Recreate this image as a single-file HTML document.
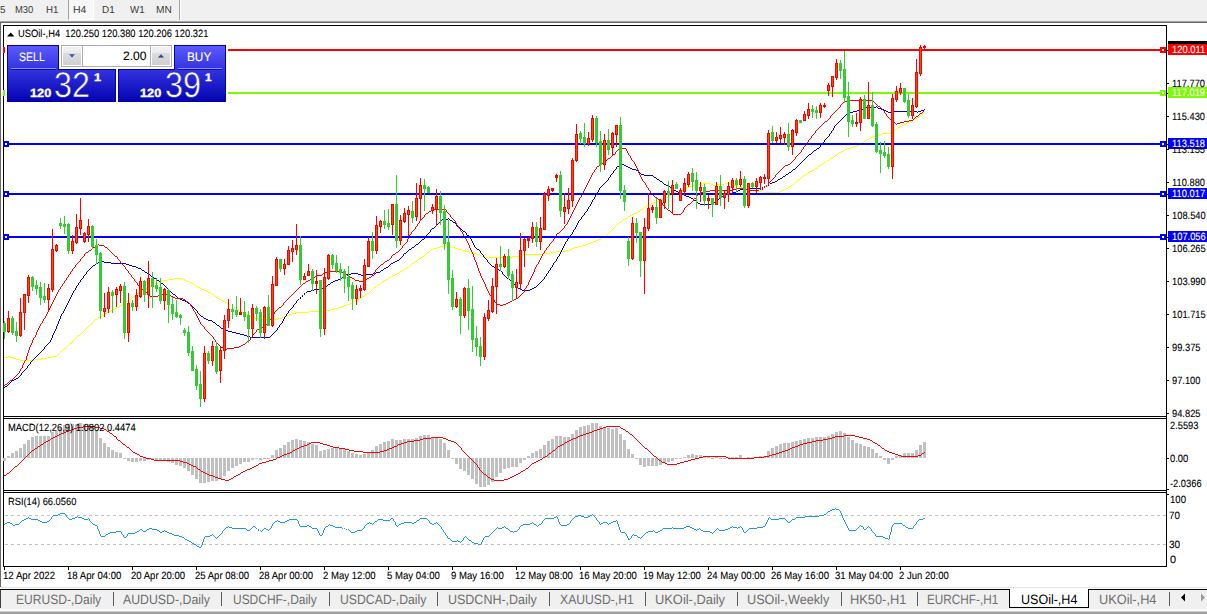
<!DOCTYPE html>
<html><head><meta charset="utf-8"><title>USOil-,H4</title>
<style>
html,body{margin:0;padding:0}
body{width:1207px;height:614px;overflow:hidden;background:#f0f0f0;position:relative;font-family:"Liberation Sans",sans-serif}
div{position:absolute;box-sizing:border-box}
.t{position:absolute;white-space:pre;line-height:0;transform-origin:0 0;display:block;text-rendering:geometricPrecision}
svg{position:absolute;left:0;top:0}
</style></head><body>
<!-- toolbar -->
<div style="left:0;top:0;width:1207px;height:21px;background:#f0f0f0"></div>
<div style="left:68px;top:0;width:26px;height:20px;background:#f7f7f7;border-left:1px solid #a0a0a0;border-right:1px solid #fff;border-bottom:1px solid #fff"></div>
<div style="left:179px;top:0;width:1px;height:20px;background:#a6a6a6"></div>
<div style="left:180px;top:0;width:1px;height:20px;background:#fbfbfb"></div>
<div style="left:0;top:21px;width:1207px;height:1px;background:#a0a0a0"></div>
<div style="left:0;top:22px;width:1207px;height:1px;background:#696969"></div>
<!-- chart window -->
<div style="left:0;top:23px;width:1207px;height:564px;background:#fff;border-left:1px solid #696969"></div>
<div style="left:0;top:587px;width:1207px;height:1px;background:#e3e3e3"></div>
<div style="left:0;top:588px;width:1207px;height:1px;background:#fff"></div>
<div style="left:0;top:589px;width:1207px;height:1px;background:#000"></div>
<!-- tab bar -->
<div style="left:0;top:590px;width:1207px;height:19px;background:#f0f0f0;border-left:1px solid #404040"></div>
<div style="left:0;top:608px;width:1207px;height:1px;background:#f0f0f0"></div>
<div style="left:0;top:609px;width:1207px;height:2px;background:#fcfcfc"></div>
<div style="left:0;top:611px;width:1207px;height:1px;background:#d0d0d0"></div>
<div style="left:0;top:612px;width:1207px;height:2px;background:#a0a0a0"></div>
<div style="left:113px;top:592px;width:1px;height:14px;background:#5a5a5a"></div>
<div style="left:221px;top:592px;width:1px;height:14px;background:#5a5a5a"></div>
<div style="left:329px;top:592px;width:1px;height:14px;background:#5a5a5a"></div>
<div style="left:437px;top:592px;width:1px;height:14px;background:#5a5a5a"></div>
<div style="left:549px;top:592px;width:1px;height:14px;background:#5a5a5a"></div>
<div style="left:645px;top:592px;width:1px;height:14px;background:#5a5a5a"></div>
<div style="left:737px;top:592px;width:1px;height:14px;background:#5a5a5a"></div>
<div style="left:841px;top:592px;width:1px;height:14px;background:#5a5a5a"></div>
<div style="left:917px;top:592px;width:1px;height:14px;background:#5a5a5a"></div>
<div style="left:1169px;top:592px;width:1px;height:14px;background:#5a5a5a"></div>
<div style="left:1009px;top:589px;width:80px;height:19px;background:#fff;border:1px solid #000;border-top:none"></div>
<svg width="1207" height="614" viewBox="0 0 1207 614" shape-rendering="crispEdges">
<defs>
<clipPath id="cm"><rect x="3" y="26" width="1163" height="390"/></clipPath>
<clipPath id="c2"><rect x="4" y="419" width="1162" height="71"/></clipPath>
<linearGradient id="pg" x1="0" y1="45" x2="0" y2="102" gradientUnits="userSpaceOnUse">
<stop offset="0" stop-color="#5c5cff"/><stop offset="0.42" stop-color="#3434e0"/><stop offset="1" stop-color="#0202b0"/></linearGradient>
<linearGradient id="bg1" x1="0" y1="0" x2="0" y2="1"><stop offset="0" stop-color="#f2f2f2"/><stop offset="0.33" stop-color="#ebebeb"/><stop offset="0.34" stop-color="#dcdcdc"/><stop offset="1" stop-color="#d0d0d0"/></linearGradient>
<linearGradient id="ar" x1="0" y1="0" x2="0" y2="1"><stop offset="0" stop-color="#5878d8"/><stop offset="1" stop-color="#1c2c6c"/></linearGradient>
</defs>
<rect x="3" y="25" width="1164" height="1" fill="#000"/>
<rect x="3" y="25" width="1" height="542" fill="#000"/>
<rect x="1166" y="25" width="1" height="542" fill="#000"/>
<rect x="3" y="416" width="1164" height="1" fill="#000"/>
<rect x="3" y="418" width="1164" height="1" fill="#000"/>
<rect x="3" y="490" width="1164" height="1" fill="#000"/>
<rect x="3" y="492" width="1164" height="1" fill="#000"/>
<rect x="3" y="566" width="1164" height="1" fill="#000"/>
<rect x="4" y="417" width="1162" height="1" fill="#fff"/>
<rect x="4" y="491" width="1162" height="1" fill="#fff"/>
<rect x="1167" y="83" width="2" height="1" fill="#000"/>
<rect x="1167" y="116" width="2" height="1" fill="#000"/>
<rect x="1167" y="149" width="2" height="1" fill="#000"/>
<rect x="1167" y="182" width="2" height="1" fill="#000"/>
<rect x="1167" y="215" width="2" height="1" fill="#000"/>
<rect x="1167" y="248" width="2" height="1" fill="#000"/>
<rect x="1167" y="281" width="2" height="1" fill="#000"/>
<rect x="1167" y="314" width="2" height="1" fill="#000"/>
<rect x="1167" y="347" width="2" height="1" fill="#000"/>
<rect x="1167" y="380" width="2" height="1" fill="#000"/>
<rect x="1167" y="413" width="2" height="1" fill="#000"/>
<rect x="1167" y="458" width="2" height="1" fill="#000"/>
<rect x="1167" y="489" width="2" height="1" fill="#000"/>
<rect x="1167" y="494" width="2" height="1" fill="#000"/>
<rect x="4" y="567" width="1" height="3" fill="#000"/>
<rect x="68" y="567" width="1" height="3" fill="#000"/>
<rect x="132" y="567" width="1" height="3" fill="#000"/>
<rect x="196" y="567" width="1" height="3" fill="#000"/>
<rect x="260" y="567" width="1" height="3" fill="#000"/>
<rect x="324" y="567" width="1" height="3" fill="#000"/>
<rect x="388" y="567" width="1" height="3" fill="#000"/>
<rect x="452" y="567" width="1" height="3" fill="#000"/>
<rect x="516" y="567" width="1" height="3" fill="#000"/>
<rect x="580" y="567" width="1" height="3" fill="#000"/>
<rect x="644" y="567" width="1" height="3" fill="#000"/>
<rect x="708" y="567" width="1" height="3" fill="#000"/>
<rect x="772" y="567" width="1" height="3" fill="#000"/>
<rect x="836" y="567" width="1" height="3" fill="#000"/>
<rect x="900" y="567" width="1" height="3" fill="#000"/>
<g clip-path="url(#cm)">
<path d="M924 112.5h1M923 113.5h1M921 114.5h2M920 115.5h1M919 116.5h1M917 117.5h2M915 118.5h2M913 119.5h2M911 120.5h2M909 121.5h2M907 122.5h2M906 123.5h1M904 124.5h2M902 125.5h2M900 126.5h2M898 127.5h2M897 128.5h1M895 129.5h2M893 130.5h2M892 131.5h1M891 132.5h1M882 133.5h9M879 134.5h3M878 135.5h1M872 136.5h6M870 137.5h2M869 138.5h1M867 139.5h2M865 140.5h2M864 141.5h1M862 142.5h2M861 143.5h1M859 144.5h2M857 145.5h2M854 146.5h3M851 147.5h3M847 148.5h4M845 149.5h2M843 150.5h2M841 151.5h2M839 152.5h2M838 153.5h1M837 154.5h1M835 155.5h2M834 156.5h1M832 157.5h2M830 158.5h2M829 159.5h1M827 160.5h2M826 161.5h1M824 162.5h2M822 163.5h2M821 164.5h1M819 165.5h2M818 166.5h1M817 167.5h1M815 168.5h2M814 169.5h1M812 170.5h2M810 171.5h2M808 172.5h2M807 173.5h1M805 174.5h2M803 175.5h2M802 176.5h1M801 177.5h1M800 178.5h1M798 179.5h2M797 180.5h1M796 181.5h1M795 182.5h1M700 183.5h11M725 183.5h8M794 183.5h1M695 184.5h5M711 184.5h2M716 184.5h9M733 184.5h1M793 184.5h1M692 185.5h3M713 185.5h3M734 185.5h2M791 185.5h2M689 186.5h3M736 186.5h3M789 186.5h2M687 187.5h2M739 187.5h3M788 187.5h1M685 188.5h2M742 188.5h3M786 188.5h2M683 189.5h2M745 189.5h5M784 189.5h2M679 190.5h4M750 190.5h5M782 190.5h2M676 191.5h3M755 191.5h7M780 191.5h2M674 192.5h2M762 192.5h1M764 192.5h16M673 193.5h1M671 194.5h2M669 195.5h2M668 196.5h1M665 197.5h3M663 198.5h2M661 199.5h2M659 200.5h2M656 201.5h3M653 202.5h3M651 203.5h2M649 204.5h2M647 205.5h2M646 206.5h1M644 207.5h2M643 208.5h1M641 209.5h2M640 210.5h1M638 211.5h2M636 212.5h2M634 213.5h2M632 214.5h2M630 215.5h2M628 216.5h2M627 217.5h1M625 218.5h2M623 219.5h2M622 220.5h1M621 221.5h1M619 222.5h2M618 223.5h1M617 224.5h1M616 225.5h1M615 226.5h1M614 227.5h1M613 228.5h1M612 229.5h1M611 230.5h1M610 231.5h1M609 232.5h1M608 233.5h1M607 234.5h1M606 235.5h1M604 236.5h2M602 237.5h2M601 238.5h1M598 239.5h3M596 240.5h2M593 241.5h3M591 242.5h2M588 243.5h3M586 244.5h2M444 245.5h4M582 245.5h4M440 246.5h4M448 246.5h3M578 246.5h4M437 247.5h3M451 247.5h4M574 247.5h4M433 248.5h4M455 248.5h3M572 248.5h2M431 249.5h2M458 249.5h4M570 249.5h2M430 250.5h1M462 250.5h3M566 250.5h4M429 251.5h1M465 251.5h4M556 251.5h10M427 252.5h2M469 252.5h3M549 252.5h7M426 253.5h1M472 253.5h4M543 253.5h6M425 254.5h1M476 254.5h4M523 254.5h20M424 255.5h1M480 255.5h2M519 255.5h4M422 256.5h2M482 256.5h4M512 256.5h7M421 257.5h1M486 257.5h26M419 258.5h2M418 259.5h1M417 260.5h1M415 261.5h2M414 262.5h1M412 263.5h2M411 264.5h1M410 265.5h1M409 266.5h1M407 267.5h2M405 268.5h2M404 269.5h1M402 270.5h2M400 271.5h2M399 272.5h1M397 273.5h2M395 274.5h2M393 275.5h2M391 276.5h2M389 277.5h2M174 278.5h9M388 278.5h1M168 279.5h6M183 279.5h2M386 279.5h2M163 280.5h5M185 280.5h2M384 280.5h2M160 281.5h3M187 281.5h2M382 281.5h2M158 282.5h2M189 282.5h3M381 282.5h1M155 283.5h3M192 283.5h1M380 283.5h1M152 284.5h3M193 284.5h2M378 284.5h2M150 285.5h2M195 285.5h1M377 285.5h1M148 286.5h2M196 286.5h2M376 286.5h1M147 287.5h1M198 287.5h2M374 287.5h2M146 288.5h1M200 288.5h1M373 288.5h1M144 289.5h2M201 289.5h3M372 289.5h1M142 290.5h2M204 290.5h2M371 290.5h1M140 291.5h2M206 291.5h2M370 291.5h1M139 292.5h1M208 292.5h3M369 292.5h1M137 293.5h2M211 293.5h1M367 293.5h2M136 294.5h1M212 294.5h2M365 294.5h2M135 295.5h1M214 295.5h1M364 295.5h1M133 296.5h2M215 296.5h1M362 296.5h2M132 297.5h1M216 297.5h2M361 297.5h1M131 298.5h1M218 298.5h1M359 298.5h2M129 299.5h2M219 299.5h2M357 299.5h2M128 300.5h1M221 300.5h2M355 300.5h2M126 301.5h2M223 301.5h2M354 301.5h1M125 302.5h1M225 302.5h2M352 302.5h2M124 303.5h1M227 303.5h2M350 303.5h2M122 304.5h2M229 304.5h1M347 304.5h3M120 305.5h2M230 305.5h1M344 305.5h3M119 306.5h1M232 306.5h1M341 306.5h3M117 307.5h2M234 307.5h1M338 307.5h3M115 308.5h2M236.5 308v2M335 308.5h3M113 309.5h2M238.5 309v2M331 309.5h4M111 310.5h2M240 310.5h1M326 310.5h5M109 311.5h2M241 311.5h1M309 311.5h17M107 312.5h2M242 312.5h2M296 312.5h13M105 313.5h2M244 313.5h2M292 313.5h4M104 314.5h1M246 314.5h2M289 314.5h3M102 315.5h2M248 315.5h2M287 315.5h2M100 316.5h2M250 316.5h2M284 316.5h3M98 317.5h2M252 317.5h3M282 317.5h2M97 318.5h1M255 318.5h3M278 318.5h4M95 319.5h2M258 319.5h20M94 320.5h1M93 321.5h1M92.5 322v2M90 324.5h2M89 325.5h1M88 326.5h1M87 327.5h1M86 328.5h1M85 329.5h1M84 330.5h1M83 331.5h1M82 332.5h1M81 333.5h1M80 334.5h1M78 335.5h2M77 336.5h1M76 337.5h1M75 338.5h1M74 339.5h1M73 340.5h1M72.5 341v2M70 343.5h2M69 344.5h1M68 345.5h1M67 346.5h1M66 347.5h1M64 348.5h2M63 349.5h1M62 350.5h1M61 351.5h1M60 352.5h1M59 353.5h1M58 354.5h1M57 355.5h1M8 356.5h2M52 356.5h5M4 357.5h4M10 357.5h3M47 357.5h5M13 358.5h3M41 358.5h6M16 359.5h4M35 359.5h6M20 360.5h15" fill="none" stroke="#ffff00" stroke-width="1"/>
<path d="M876 106.5h1M866 107.5h10M877 107.5h1M863 108.5h3M878 108.5h3M861 109.5h2M881 109.5h3M924 109.5h1M857 110.5h4M884 110.5h2M921 110.5h3M853 111.5h4M886 111.5h2M893 111.5h24M918 111.5h3M849 112.5h4M888 112.5h5M917 112.5h1M847 113.5h2M846 114.5h1M845 115.5h1M844 116.5h1M843 117.5h1M842 118.5h1M841 119.5h1M840 120.5h1M839 121.5h1M838 122.5h1M837 123.5h1M836 124.5h1M835 125.5h1M834.5 126v2M833.5 128v2M832 130.5h1M831.5 131v2M830 133.5h1M829.5 134v2M828 136.5h1M827 137.5h1M826 138.5h1M825 139.5h1M824.5 140v2M823 142.5h1M822 143.5h1M821 144.5h1M820.5 145v2M819 147.5h1M817 148.5h2M816 149.5h1M814 150.5h2M813 151.5h1M812 152.5h1M811 153.5h1M809 154.5h2M808 155.5h1M807 156.5h1M806 157.5h1M805 158.5h1M804 159.5h1M803 160.5h1M802 161.5h1M801 162.5h1M800 163.5h1M622 164.5h2M799 164.5h1M620 165.5h2M624 165.5h2M798 165.5h1M617 166.5h3M626 166.5h2M797 166.5h1M616.5 167v2M628 167.5h2M796 167.5h1M630 168.5h2M795 168.5h1M615 169.5h1M632 169.5h4M793 169.5h2M614 170.5h1M636 170.5h2M792 170.5h1M613.5 171v2M638 171.5h1M791 171.5h1M639 172.5h1M789 172.5h2M612 173.5h1M640 173.5h1M788 173.5h1M611 174.5h1M641 174.5h3M786 174.5h2M610.5 175v2M644 175.5h9M785 175.5h1M653 176.5h1M783 176.5h2M609 177.5h1M654 177.5h2M782 177.5h1M608.5 178v2M656 178.5h1M780 178.5h2M657 179.5h2M778 179.5h2M607 180.5h1M659 180.5h1M777 180.5h1M606 181.5h1M660 181.5h2M775 181.5h2M605 182.5h1M662 182.5h1M772 182.5h3M604 183.5h1M663 183.5h1M770 183.5h2M603 184.5h1M664 184.5h2M768.5 184v2M602 185.5h1M666 185.5h2M766.5 185v2M601 186.5h1M668 186.5h2M600 187.5h1M670 187.5h1M762.5 187v2M764 187.5h1M599.5 188v2M671 188.5h2M748 188.5h13M673 189.5h1M740 189.5h8M598.5 190v2M674 190.5h2M738 190.5h2M676 191.5h2M736 191.5h2M597 192.5h1M678 192.5h2M733 192.5h3M596.5 193v2M680 193.5h2M729 193.5h4M682 194.5h2M725 194.5h4M595.5 195v2M684 195.5h2M724 195.5h1M686 196.5h3M722 196.5h2M594.5 197v2M689 197.5h2M721 197.5h1M691 198.5h2M719 198.5h2M593 199.5h1M693 199.5h1M718 199.5h1M592.5 200v2M694 200.5h2M717 200.5h1M696 201.5h1M716 201.5h1M591.5 202v2M697 202.5h1M714 202.5h2M698 203.5h2M711 203.5h3M590.5 204v2M700 204.5h11M589 206.5h1M588.5 207v2M587.5 209v2M586 211.5h1M585 212.5h1M584.5 213v2M583 215.5h1M582 216.5h1M581.5 217v2M448 218.5h1M442 219.5h6M449 219.5h1M580 219.5h1M441 220.5h1M450 220.5h2M579 220.5h1M440 221.5h1M452 221.5h1M578.5 221v2M439 222.5h1M453 222.5h2M438 223.5h1M455 223.5h1M577.5 223v2M437 224.5h1M456.5 224v2M436 225.5h1M576.5 225v2M435 226.5h1M457 226.5h2M434 227.5h1M459 227.5h1M575.5 227v2M432 228.5h2M460 228.5h1M431 229.5h1M461 229.5h1M574 229.5h1M430.5 230v2M462 230.5h1M573.5 230v2M463 231.5h2M429 232.5h1M465 232.5h1M572.5 232v2M428 233.5h1M466.5 233v2M427 234.5h1M571 234.5h1M426 235.5h1M467 235.5h2M570 235.5h1M425 236.5h1M469.5 236v2M569.5 236v2M424.5 237v2M470 238.5h1M568 238.5h1M422 239.5h2M471.5 239v2M567.5 239v2M421 240.5h1M420 241.5h1M472.5 241v2M566 241.5h1M419 242.5h1M565.5 242v2M418 243.5h1M473.5 243v2M416 244.5h2M564.5 244v2M415 245.5h1M474.5 245v2M414 246.5h1M563.5 246v2M412 247.5h2M475 247.5h1M411 248.5h1M476 248.5h1M562.5 248v2M409 249.5h2M477 249.5h2M408 250.5h1M479 250.5h1M561.5 250v2M407 251.5h1M480.5 251v2M406 252.5h1M560.5 252v2M404 253.5h2M481 253.5h1M403.5 254v2M482 254.5h1M559.5 254v2M483.5 255v2M402 256.5h1M558 256.5h1M401 257.5h1M484 257.5h1M557.5 257v2M400 258.5h1M485 258.5h1M399 259.5h1M486 259.5h1M556.5 259v2M397 260.5h2M487.5 260v2M101 261.5h3M395 261.5h2M555 261.5h1M98 262.5h3M104 262.5h7M393 262.5h2M488 262.5h1M554 262.5h1M96 263.5h2M111 263.5h15M391 263.5h2M489 263.5h1M553.5 263v2M95 264.5h1M126 264.5h3M390 264.5h1M490 264.5h1M93 265.5h2M129 265.5h3M389 265.5h1M491 265.5h1M552.5 265v2M92 266.5h1M132 266.5h4M388 266.5h1M492 266.5h2M91 267.5h1M136 267.5h2M386 267.5h2M494 267.5h2M551 267.5h1M90 268.5h1M138 268.5h3M384 268.5h2M496 268.5h1M550.5 268v2M89 269.5h1M141 269.5h1M383 269.5h1M497 269.5h2M88 270.5h1M142 270.5h2M381 270.5h2M499 270.5h2M549 270.5h1M87 271.5h1M144 271.5h1M380 271.5h1M501 271.5h1M548.5 271v2M86.5 272v2M145 272.5h2M376 272.5h4M502.5 272v2M147 273.5h1M351 273.5h7M373 273.5h3M547 273.5h1M85 274.5h1M148 274.5h2M346 274.5h5M358 274.5h3M363 274.5h10M503 274.5h1M546.5 274v2M84 275.5h1M150 275.5h1M344 275.5h2M361 275.5h2M504 275.5h1M83.5 276v2M151 276.5h2M343 276.5h1M505 276.5h1M545 276.5h1M153 277.5h1M342 277.5h1M506 277.5h1M544.5 277v2M82 278.5h1M154 278.5h2M340 278.5h2M507 278.5h2M81 279.5h1M156 279.5h1M338 279.5h2M509 279.5h1M543 279.5h1M80.5 280v2M157 280.5h2M335 280.5h3M510 280.5h1M542 280.5h1M159 281.5h1M333 281.5h2M511 281.5h1M541 281.5h1M79 282.5h1M160 282.5h1M331 282.5h2M512 282.5h1M540 282.5h1M78.5 283v2M161 283.5h2M330 283.5h1M513 283.5h1M539 283.5h1M163 284.5h1M328 284.5h2M514 284.5h1M538 284.5h1M77 285.5h1M164 285.5h1M327 285.5h1M515 285.5h1M537 285.5h1M76.5 286v2M165 286.5h1M325 286.5h2M516 286.5h1M536 286.5h1M166 287.5h1M324 287.5h1M517 287.5h1M534 287.5h2M75.5 288v2M167 288.5h1M320 288.5h4M518 288.5h2M532 288.5h2M168 289.5h1M314 289.5h6M520 289.5h2M530 289.5h2M74 290.5h1M169 290.5h1M311 290.5h3M522 290.5h8M73.5 291v2M170 291.5h1M307 291.5h4M171 292.5h1M306 292.5h1M72.5 293v2M172 293.5h1M304.5 293v2M173 294.5h2M71.5 295v2M175 295.5h1M302.5 295v2M176 296.5h1M70.5 297v2M177 297.5h1M300.5 297v2M178 298.5h2M69.5 299v2M180 299.5h2M298 299.5h1M182 300.5h3M297 300.5h1M68.5 301v2M185 301.5h2M296.5 301v2M187 302.5h1M67.5 303v2M188 303.5h2M295 303.5h1M190 304.5h1M294 304.5h1M66.5 305v2M191 305.5h1M293.5 305v2M192 306.5h1M65.5 307v2M193 307.5h1M292 307.5h1M194 308.5h1M291 308.5h1M64.5 309v2M195 309.5h1M290 309.5h1M196 310.5h1M289 310.5h1M63.5 311v2M197.5 311v2M288.5 311v2M62 313.5h1M198 313.5h1M287 313.5h1M61.5 314v2M199 314.5h1M286.5 314v2M200 315.5h1M60.5 316v3M201 316.5h2M285 316.5h1M203 317.5h1M284.5 317v2M204 318.5h2M59.5 319v2M206 319.5h2M283.5 319v2M208 320.5h4M58.5 321v3M212 321.5h1M282.5 321v2M213 322.5h2M215 323.5h1M281 323.5h1M57.5 324v2M216 324.5h1M280 324.5h1M217 325.5h2M279.5 325v2M56.5 326v3M219 326.5h1M220 327.5h1M278 327.5h1M221 328.5h3M277.5 328v2M55.5 329v2M224 329.5h2M226 330.5h2M276 330.5h1M54.5 331v2M228 331.5h4M275 331.5h1M232 332.5h4M274 332.5h1M53.5 333v2M236 333.5h4M273 333.5h1M240 334.5h4M272 334.5h1M52.5 335v3M244 335.5h3M271 335.5h1M247 336.5h3M270 336.5h1M250 337.5h20M51.5 338v2M50.5 340v2M49 342.5h1M48 343.5h1M47 344.5h1M46 345.5h1M45 346.5h1M44.5 347v2M43 349.5h1M42 350.5h1M41 351.5h1M40 352.5h1M39 353.5h1M38 354.5h1M37 355.5h1M36 356.5h1M35 357.5h1M34 358.5h1M33 359.5h1M32 360.5h1M31 361.5h1M30.5 362v2M29 364.5h1M28 365.5h1M27.5 366v2M26 368.5h1M25 369.5h1M24 370.5h1M23 371.5h1M22 372.5h1M21.5 373v2M20 375.5h1M19 376.5h1M18 377.5h1M16 378.5h2M14 379.5h2M12 380.5h2M11 381.5h1M10 382.5h1M9 383.5h1M8 384.5h1M7 385.5h1M5 386.5h2M4 387.5h1" fill="none" stroke="#0000d0" stroke-width="1"/>
<path d="M847 100.5h26M845 101.5h2M873 101.5h1M843 102.5h2M874 102.5h1M842 103.5h1M875 103.5h1M841 104.5h1M876 104.5h1M840.5 105v2M877 105.5h1M878 106.5h2M839 107.5h1M880 107.5h1M838 108.5h1M881 108.5h1M837 109.5h1M882 109.5h1M836 110.5h1M883 110.5h1M835 111.5h1M884.5 111v2M923 111.5h1M834 112.5h1M922 112.5h1M833 113.5h1M885 113.5h1M920 113.5h2M832 114.5h1M886.5 114v2M919 114.5h1M831 115.5h1M918 115.5h1M830.5 116v2M887 116.5h1M916 116.5h2M888 117.5h1M915 117.5h1M829 118.5h1M889 118.5h1M914 118.5h1M828 119.5h1M890 119.5h1M913 119.5h1M827 120.5h1M891 120.5h1M909 120.5h4M825 121.5h2M892 121.5h1M904 121.5h5M824 122.5h1M893 122.5h2M900 122.5h4M823 123.5h1M895 123.5h1M897 123.5h3M822 124.5h1M896 124.5h1M821 125.5h1M820 126.5h1M819 127.5h1M818 128.5h1M817 129.5h1M816 130.5h1M815.5 131v2M814 133.5h1M813 134.5h1M812 135.5h1M811.5 136v2M810 138.5h1M809 139.5h1M808.5 140v2M807 142.5h1M806 143.5h1M805.5 144v2M804 146.5h1M803.5 147v2M621 148.5h5M618 149.5h3M626.5 149v2M802 149.5h1M617 150.5h1M801.5 150v2M616 151.5h1M627.5 151v2M615.5 152v2M800 152.5h1M628.5 153v2M799 153.5h1M613 154.5h2M798 154.5h1M612 155.5h1M629 155.5h1M797 155.5h1M611 156.5h1M630.5 156v2M796 156.5h1M610 157.5h1M795.5 157v2M608 158.5h2M631.5 158v2M607 159.5h1M794 159.5h1M606 160.5h1M632 160.5h1M793 160.5h1M605 161.5h1M633 161.5h1M792 161.5h1M604 162.5h1M634.5 162v2M791 162.5h1M602 163.5h2M790 163.5h1M601 164.5h1M635.5 164v2M788 164.5h2M599 165.5h2M785 165.5h3M597 166.5h2M636.5 166v2M784 166.5h1M596.5 167v2M783 167.5h1M637.5 168v2M782 168.5h1M595 169.5h1M781 169.5h1M594.5 170v2M638.5 170v3M780 170.5h1M779 171.5h1M593 172.5h1M778 172.5h1M592.5 173v2M639.5 173v2M777 173.5h1M776 174.5h1M591.5 175v2M640.5 175v2M775.5 175v2M590.5 177v2M641.5 177v2M774 177.5h1M773 178.5h1M589.5 179v2M642.5 179v2M772 179.5h1M771 180.5h1M588.5 181v2M643 181.5h1M770 181.5h1M644 182.5h1M769 182.5h1M587.5 183v2M645.5 183v2M768.5 183v2M586.5 185v2M646.5 185v2M766.5 185v2M764.5 186v2M585.5 187v2M647 187.5h1M648.5 188v2M736 188.5h8M762.5 188v2M584.5 189v2M732 189.5h4M744 189.5h5M760 189.5h1M649 190.5h1M710 190.5h22M749 190.5h10M583.5 191v2M650.5 191v2M705 191.5h5M700 192.5h5M582.5 193v2M651 193.5h1M699 193.5h1M652 194.5h1M698 194.5h1M581.5 195v2M653 195.5h1M697 195.5h1M654 196.5h1M696.5 196v2M580 197.5h1M655 197.5h2M579.5 198v2M657 198.5h1M694 198.5h2M658 199.5h2M693.5 199v2M578.5 200v2M660.5 200v2M692 201.5h1M577.5 202v2M661 202.5h1M691 202.5h1M662.5 203v2M690 203.5h1M576.5 204v2M688 204.5h2M663 205.5h1M687 205.5h1M575.5 206v2M664 206.5h1M686 206.5h1M665 207.5h1M685 207.5h1M440 208.5h2M574.5 208v2M666 208.5h1M684.5 208v2M434 209.5h6M442 209.5h4M667 209.5h1M431 210.5h3M446.5 210v2M573.5 210v2M668 210.5h2M683.5 210v2M429 211.5h2M670 211.5h1M428 212.5h1M447 212.5h1M572.5 212v2M671 212.5h1M682 212.5h1M426 213.5h2M448 213.5h1M672 213.5h1M681 213.5h1M425 214.5h1M449 214.5h1M571.5 214v2M673 214.5h8M424.5 215v2M450.5 215v2M570.5 216v2M423 217.5h1M451 217.5h1M422 218.5h1M452 218.5h1M569.5 218v2M421 219.5h1M453 219.5h1M420 220.5h1M454 220.5h1M568.5 220v2M419.5 221v2M455.5 221v2M567.5 222v2M418 223.5h1M456.5 223v2M417.5 224v2M566 224.5h1M457 225.5h1M565 225.5h1M416 226.5h1M458.5 226v2M564.5 226v2M415.5 227v2M459 228.5h1M563 228.5h1M414 229.5h1M460.5 229v2M562 229.5h1M413 230.5h1M561 230.5h1M412 231.5h1M461 231.5h1M560 231.5h1M411.5 232v2M462.5 232v2M559 232.5h1M557 233.5h2M410 234.5h1M463.5 234v2M556.5 234v2M409.5 235v2M464 236.5h1M555.5 236v2M408.5 237v2M465.5 237v2M554 238.5h1M407.5 239v3M466.5 239v2M553.5 239v2M467.5 241v2M552 241.5h1M406 242.5h1M551 242.5h1M405 243.5h1M468.5 243v2M550 243.5h1M98 244.5h1M404 244.5h1M549.5 244v2M97 245.5h1M99 245.5h5M403 245.5h1M469.5 245v3M95 246.5h2M104 246.5h1M402.5 246v2M548 246.5h1M93 247.5h2M105 247.5h2M547 247.5h1M92 248.5h1M107 248.5h1M401 248.5h1M470.5 248v2M546.5 248v2M91 249.5h1M108 249.5h1M400 249.5h1M89 250.5h2M109 250.5h1M399 250.5h1M471.5 250v2M545 250.5h1M88 251.5h1M110 251.5h1M398 251.5h1M544.5 251v2M86 252.5h2M111 252.5h1M396 252.5h2M472.5 252v2M85 253.5h1M112 253.5h1M395 253.5h1M543 253.5h1M84.5 254v2M113 254.5h1M393 254.5h2M473.5 254v3M542.5 254v2M114 255.5h1M392 255.5h1M83 256.5h1M115 256.5h2M391.5 256v2M541.5 256v2M82 257.5h1M117.5 257v2M474.5 257v3M81 258.5h1M390 258.5h1M540.5 258v2M80.5 259v2M118 259.5h1M389 259.5h1M119 260.5h1M387 260.5h2M475.5 260v2M539.5 260v2M79 261.5h1M120.5 261v2M385 261.5h2M78 262.5h1M384 262.5h1M476.5 262v3M538.5 262v2M77 263.5h1M121 263.5h1M383 263.5h1M76 264.5h1M122 264.5h1M381 264.5h2M537 264.5h1M75.5 265v2M123 265.5h1M380 265.5h1M477.5 265v3M536.5 265v2M124 266.5h1M379 266.5h1M74 267.5h1M125.5 267v2M378 267.5h1M535.5 267v2M73 268.5h1M377 268.5h1M478.5 268v3M72.5 269v2M126 269.5h1M376 269.5h1M534.5 269v3M127 270.5h1M375.5 270v2M71 271.5h1M128.5 271v2M328 271.5h14M479.5 271v2M70.5 272v2M325 272.5h3M342 272.5h2M374.5 272v3M533.5 272v2M129 273.5h1M323 273.5h2M344 273.5h2M480.5 273v3M69 274.5h1M130 274.5h1M322 274.5h1M346 274.5h1M532.5 274v2M68.5 275v2M131.5 275v2M316 275.5h6M347 275.5h2M372 275.5h2M315 276.5h1M349 276.5h1M371 276.5h1M481.5 276v2M531.5 276v2M67 277.5h1M132 277.5h1M314 277.5h1M350 277.5h2M369 277.5h2M66.5 278v2M133 278.5h1M312 278.5h2M352 278.5h2M367 278.5h2M482.5 278v2M530.5 278v2M134.5 279v2M310 279.5h2M354 279.5h1M365 279.5h2M65 280.5h1M308 280.5h2M355 280.5h4M363 280.5h2M483.5 280v2M529.5 280v2M64.5 281v2M135 281.5h1M306 281.5h2M359 281.5h4M136 282.5h1M305 282.5h1M484.5 282v2M528.5 282v3M63 283.5h1M137.5 283v2M303 283.5h2M62.5 284v2M302 284.5h1M485.5 284v3M138 285.5h1M301 285.5h1M527 285.5h1M61 286.5h1M139 286.5h1M300 286.5h1M526.5 286v2M60.5 287v2M140 287.5h1M299 287.5h1M486.5 287v2M141 288.5h1M298 288.5h1M525 288.5h1M59 289.5h1M142 289.5h2M297 289.5h1M487.5 289v2M524.5 289v3M58.5 290v2M144 290.5h1M296 290.5h1M145 291.5h1M295 291.5h1M488.5 291v2M57.5 292v2M146 292.5h1M294 292.5h1M523 292.5h1M147 293.5h1M293 293.5h1M489.5 293v2M522 293.5h1M56.5 294v2M148 294.5h1M160 294.5h9M292 294.5h1M521 294.5h1M149 295.5h1M158 295.5h2M169 295.5h2M291 295.5h1M490 295.5h1M520 295.5h1M55.5 296v2M150 296.5h8M171 296.5h2M290 296.5h1M491.5 296v2M519 296.5h1M173 297.5h2M289 297.5h1M518 297.5h1M54.5 298v2M175 298.5h8M288 298.5h1M492 298.5h1M516 298.5h2M183 299.5h2M287 299.5h1M493 299.5h1M514 299.5h2M53.5 300v2M185 300.5h1M286 300.5h1M494.5 300v2M512 300.5h2M186 301.5h2M285 301.5h1M510 301.5h2M52.5 302v2M188 302.5h1M284 302.5h1M495 302.5h1M508 302.5h2M189 303.5h1M283.5 303v2M496 303.5h1M506 303.5h2M51.5 304v2M190.5 304v2M497 304.5h3M503 304.5h3M282 305.5h1M500 305.5h3M50.5 306v2M191 306.5h1M281 306.5h1M192.5 307v2M279 307.5h2M49.5 308v2M278 308.5h1M193.5 309v2M277 309.5h1M48.5 310v2M276 310.5h1M194 311.5h1M275 311.5h1M47.5 312v2M195.5 312v2M274.5 312v2M46.5 314v2M196.5 314v2M273 314.5h1M272.5 315v2M45.5 316v2M197.5 316v2M271.5 317v2M44 318.5h1M198.5 318v2M43.5 319v2M270 319.5h1M199.5 320v2M269.5 320v2M42.5 321v2M200.5 322v2M268 322.5h1M41 323.5h1M267 323.5h1M40.5 324v2M201 324.5h1M266 324.5h1M202 325.5h1M264 325.5h2M39.5 326v2M203 326.5h1M263 326.5h1M204.5 327v2M261 327.5h2M38.5 328v2M259 328.5h2M205 329.5h1M257 329.5h2M37.5 330v2M206 330.5h1M256.5 330v2M207 331.5h1M36.5 332v3M208 332.5h1M255 332.5h1M209 333.5h1M254 333.5h1M210 334.5h1M253 334.5h1M35.5 335v2M211 335.5h1M252.5 335v2M212 336.5h1M34 337.5h1M213.5 337v2M251 337.5h1M33.5 338v2M250.5 338v2M214 339.5h1M32.5 340v3M215.5 340v2M249 340.5h1M247 341.5h2M216 342.5h1M246 342.5h1M31.5 343v2M217 343.5h1M245 343.5h1M218 344.5h1M243 344.5h2M30.5 345v2M219 345.5h1M241 345.5h2M220 346.5h1M239 346.5h2M29.5 347v3M221 347.5h2M234 347.5h5M223 348.5h3M227 348.5h7M226 349.5h1M28.5 350v3M27.5 353v3M26.5 356v4M25 360.5h1M24.5 361v2M23.5 363v2M22.5 365v3M21 368.5h1M20.5 369v2M19.5 371v2M18 373.5h1M17 374.5h1M16 375.5h1M15 376.5h1M14 377.5h1M13 378.5h1M12 379.5h1M10 380.5h2M9 381.5h1M8 382.5h1M7 383.5h1M5 384.5h2M4 385.5h1" fill="none" stroke="#ff0000" stroke-width="1"/>
</g>
<rect x="228" y="49" width="938" height="2" fill="#ff0000"/>
<rect x="1160" y="47" width="6" height="6" fill="#ff0000"/>
<rect x="1162" y="49" width="2" height="2" fill="#fff"/>
<rect x="1167" y="50" width="1" height="1" fill="#000"/>
<rect x="3" y="47" width="2" height="6" fill="#ff0000"/>
<rect x="228" y="92" width="938" height="2" fill="#7cfc00"/>
<rect x="1160" y="90" width="6" height="6" fill="#7cfc00"/>
<rect x="1162" y="92" width="2" height="2" fill="#fff"/>
<rect x="1167" y="93" width="1" height="1" fill="#000"/>
<rect x="3" y="90" width="2" height="6" fill="#7cfc00"/>
<rect x="4" y="143" width="1162" height="2" fill="#0000ff"/>
<rect x="1160" y="141" width="6" height="6" fill="#0000ff"/>
<rect x="1162" y="143" width="2" height="2" fill="#fff"/>
<rect x="1167" y="144" width="1" height="1" fill="#000"/>
<rect x="3" y="141" width="6" height="6" fill="#0000ff"/>
<rect x="5" y="143" width="2" height="2" fill="#fff"/>
<rect x="4" y="193" width="1162" height="2" fill="#0000ff"/>
<rect x="1160" y="191" width="6" height="6" fill="#0000ff"/>
<rect x="1162" y="193" width="2" height="2" fill="#fff"/>
<rect x="1167" y="194" width="1" height="1" fill="#000"/>
<rect x="3" y="191" width="6" height="6" fill="#0000ff"/>
<rect x="5" y="193" width="2" height="2" fill="#fff"/>
<rect x="4" y="236" width="1162" height="2" fill="#0000ff"/>
<rect x="1160" y="234" width="6" height="6" fill="#0000ff"/>
<rect x="1162" y="236" width="2" height="2" fill="#fff"/>
<rect x="1167" y="237" width="1" height="1" fill="#000"/>
<rect x="3" y="234" width="6" height="6" fill="#0000ff"/>
<rect x="5" y="236" width="2" height="2" fill="#fff"/>
<g clip-path="url(#cm)">
<rect x="4" y="321" width="1" height="18" fill="#32cd32"/>
<rect x="3" y="323" width="3" height="9" fill="#32cd32"/>
<rect x="8" y="311" width="1" height="22" fill="#ff0000"/>
<rect x="7" y="318" width="3" height="14" fill="#ff0000"/>
<rect x="8" y="319" width="1" height="12" fill="#ff4a00"/>
<rect x="12" y="316" width="1" height="19" fill="#32cd32"/>
<rect x="11" y="318" width="3" height="15" fill="#32cd32"/>
<rect x="16" y="322" width="1" height="20" fill="#32cd32"/>
<rect x="15" y="331" width="3" height="5" fill="#32cd32"/>
<rect x="20" y="298" width="1" height="39" fill="#ff0000"/>
<rect x="19" y="312" width="3" height="24" fill="#ff0000"/>
<rect x="20" y="313" width="1" height="22" fill="#ff4a00"/>
<rect x="24" y="294" width="1" height="36" fill="#ff0000"/>
<rect x="23" y="294" width="3" height="19" fill="#ff0000"/>
<rect x="24" y="295" width="1" height="17" fill="#ff4a00"/>
<rect x="28" y="275" width="1" height="28" fill="#ff0000"/>
<rect x="27" y="277" width="3" height="19" fill="#ff0000"/>
<rect x="28" y="278" width="1" height="17" fill="#ff4a00"/>
<rect x="32" y="276" width="1" height="15" fill="#32cd32"/>
<rect x="31" y="277" width="3" height="10" fill="#32cd32"/>
<rect x="36" y="280" width="1" height="15" fill="#32cd32"/>
<rect x="35" y="285" width="3" height="4" fill="#32cd32"/>
<rect x="40" y="282" width="1" height="23" fill="#32cd32"/>
<rect x="39" y="287" width="3" height="11" fill="#32cd32"/>
<rect x="44" y="283" width="1" height="20" fill="#32cd32"/>
<rect x="43" y="296" width="3" height="4" fill="#32cd32"/>
<rect x="48" y="284" width="1" height="27" fill="#ff0000"/>
<rect x="47" y="288" width="3" height="12" fill="#ff0000"/>
<rect x="48" y="289" width="1" height="10" fill="#ff4a00"/>
<rect x="52" y="229" width="1" height="63" fill="#ff0000"/>
<rect x="51" y="249" width="3" height="41" fill="#ff0000"/>
<rect x="52" y="250" width="1" height="39" fill="#ff4a00"/>
<rect x="56" y="244" width="1" height="8" fill="#ff0000"/>
<rect x="55" y="245" width="3" height="6" fill="#ff0000"/>
<rect x="56" y="246" width="1" height="4" fill="#ff4a00"/>
<rect x="60" y="218" width="1" height="11" fill="#32cd32"/>
<rect x="59" y="223" width="3" height="3" fill="#32cd32"/>
<rect x="64" y="216" width="1" height="18" fill="#32cd32"/>
<rect x="63" y="224" width="3" height="3" fill="#32cd32"/>
<rect x="68" y="223" width="1" height="31" fill="#32cd32"/>
<rect x="67" y="224" width="3" height="27" fill="#32cd32"/>
<rect x="72" y="235" width="1" height="19" fill="#ff0000"/>
<rect x="71" y="241" width="3" height="10" fill="#ff0000"/>
<rect x="72" y="242" width="1" height="8" fill="#ff4a00"/>
<rect x="76" y="214" width="1" height="30" fill="#ff0000"/>
<rect x="75" y="227" width="3" height="16" fill="#ff0000"/>
<rect x="76" y="228" width="1" height="14" fill="#ff4a00"/>
<rect x="80" y="198" width="1" height="37" fill="#ff0000"/>
<rect x="79" y="220" width="3" height="9" fill="#ff0000"/>
<rect x="80" y="221" width="1" height="7" fill="#ff4a00"/>
<rect x="84" y="232" width="1" height="11" fill="#ff0000"/>
<rect x="83" y="233" width="3" height="9" fill="#ff0000"/>
<rect x="84" y="234" width="1" height="7" fill="#ff4a00"/>
<rect x="88" y="219" width="1" height="23" fill="#ff0000"/>
<rect x="87" y="226" width="3" height="9" fill="#ff0000"/>
<rect x="88" y="227" width="1" height="7" fill="#ff4a00"/>
<rect x="92" y="225" width="1" height="24" fill="#32cd32"/>
<rect x="91" y="226" width="3" height="21" fill="#32cd32"/>
<rect x="96" y="239" width="1" height="25" fill="#32cd32"/>
<rect x="95" y="245" width="3" height="10" fill="#32cd32"/>
<rect x="100" y="252" width="1" height="67" fill="#32cd32"/>
<rect x="99" y="253" width="3" height="58" fill="#32cd32"/>
<rect x="104" y="293" width="1" height="24" fill="#ff0000"/>
<rect x="103" y="308" width="3" height="4" fill="#ff0000"/>
<rect x="104" y="309" width="1" height="2" fill="#ff4a00"/>
<rect x="108" y="287" width="1" height="26" fill="#ff0000"/>
<rect x="107" y="292" width="3" height="17" fill="#ff0000"/>
<rect x="108" y="293" width="1" height="15" fill="#ff4a00"/>
<rect x="112" y="290" width="1" height="23" fill="#32cd32"/>
<rect x="111" y="292" width="3" height="4" fill="#32cd32"/>
<rect x="116" y="287" width="1" height="20" fill="#ff0000"/>
<rect x="115" y="289" width="3" height="6" fill="#ff0000"/>
<rect x="116" y="290" width="1" height="4" fill="#ff4a00"/>
<rect x="120" y="284" width="1" height="19" fill="#ff0000"/>
<rect x="119" y="286" width="3" height="5" fill="#ff0000"/>
<rect x="120" y="287" width="1" height="3" fill="#ff4a00"/>
<rect x="124" y="282" width="1" height="57" fill="#32cd32"/>
<rect x="123" y="286" width="3" height="47" fill="#32cd32"/>
<rect x="128" y="293" width="1" height="49" fill="#ff0000"/>
<rect x="127" y="303" width="3" height="30" fill="#ff0000"/>
<rect x="128" y="304" width="1" height="28" fill="#ff4a00"/>
<rect x="132" y="300" width="1" height="11" fill="#32cd32"/>
<rect x="131" y="303" width="3" height="4" fill="#32cd32"/>
<rect x="136" y="289" width="1" height="22" fill="#ff0000"/>
<rect x="135" y="295" width="3" height="12" fill="#ff0000"/>
<rect x="136" y="296" width="1" height="10" fill="#ff4a00"/>
<rect x="140" y="277" width="1" height="21" fill="#ff0000"/>
<rect x="139" y="281" width="3" height="16" fill="#ff0000"/>
<rect x="140" y="282" width="1" height="14" fill="#ff4a00"/>
<rect x="144" y="280" width="1" height="22" fill="#32cd32"/>
<rect x="143" y="281" width="3" height="14" fill="#32cd32"/>
<rect x="148" y="261" width="1" height="47" fill="#ff0000"/>
<rect x="147" y="278" width="3" height="17" fill="#ff0000"/>
<rect x="148" y="279" width="1" height="15" fill="#ff4a00"/>
<rect x="152" y="272" width="1" height="36" fill="#32cd32"/>
<rect x="151" y="278" width="3" height="9" fill="#32cd32"/>
<rect x="156" y="278" width="1" height="14" fill="#32cd32"/>
<rect x="155" y="285" width="3" height="4" fill="#32cd32"/>
<rect x="160" y="278" width="1" height="26" fill="#32cd32"/>
<rect x="159" y="287" width="3" height="14" fill="#32cd32"/>
<rect x="164" y="288" width="1" height="22" fill="#ff0000"/>
<rect x="163" y="289" width="3" height="12" fill="#ff0000"/>
<rect x="164" y="290" width="1" height="10" fill="#ff4a00"/>
<rect x="168" y="289" width="1" height="34" fill="#32cd32"/>
<rect x="167" y="290" width="3" height="15" fill="#32cd32"/>
<rect x="172" y="297" width="1" height="23" fill="#32cd32"/>
<rect x="171" y="304" width="3" height="10" fill="#32cd32"/>
<rect x="176" y="300" width="1" height="18" fill="#32cd32"/>
<rect x="175" y="312" width="3" height="5" fill="#32cd32"/>
<rect x="180" y="314" width="1" height="11" fill="#32cd32"/>
<rect x="179" y="315" width="3" height="3" fill="#32cd32"/>
<rect x="184" y="328" width="1" height="8" fill="#32cd32"/>
<rect x="183" y="330" width="3" height="3" fill="#32cd32"/>
<rect x="188" y="326" width="1" height="30" fill="#32cd32"/>
<rect x="187" y="332" width="3" height="21" fill="#32cd32"/>
<rect x="192" y="346" width="1" height="25" fill="#32cd32"/>
<rect x="191" y="351" width="3" height="20" fill="#32cd32"/>
<rect x="196" y="365" width="1" height="25" fill="#32cd32"/>
<rect x="195" y="369" width="3" height="17" fill="#32cd32"/>
<rect x="200" y="371" width="1" height="36" fill="#32cd32"/>
<rect x="199" y="384" width="3" height="15" fill="#32cd32"/>
<rect x="204" y="346" width="1" height="56" fill="#ff0000"/>
<rect x="203" y="353" width="3" height="46" fill="#ff0000"/>
<rect x="204" y="354" width="1" height="44" fill="#ff4a00"/>
<rect x="208" y="351" width="1" height="13" fill="#32cd32"/>
<rect x="207" y="353" width="3" height="8" fill="#32cd32"/>
<rect x="212" y="341" width="1" height="25" fill="#ff0000"/>
<rect x="211" y="346" width="3" height="15" fill="#ff0000"/>
<rect x="212" y="347" width="1" height="13" fill="#ff4a00"/>
<rect x="216" y="342" width="1" height="32" fill="#32cd32"/>
<rect x="215" y="346" width="3" height="26" fill="#32cd32"/>
<rect x="220" y="347" width="1" height="36" fill="#ff0000"/>
<rect x="219" y="350" width="3" height="21" fill="#ff0000"/>
<rect x="220" y="351" width="1" height="19" fill="#ff4a00"/>
<rect x="224" y="315" width="1" height="44" fill="#ff0000"/>
<rect x="223" y="320" width="3" height="31" fill="#ff0000"/>
<rect x="224" y="321" width="1" height="29" fill="#ff4a00"/>
<rect x="228" y="299" width="1" height="29" fill="#ff0000"/>
<rect x="227" y="309" width="3" height="12" fill="#ff0000"/>
<rect x="228" y="310" width="1" height="10" fill="#ff4a00"/>
<rect x="232" y="304" width="1" height="15" fill="#32cd32"/>
<rect x="231" y="309" width="3" height="3" fill="#32cd32"/>
<rect x="236" y="296" width="1" height="21" fill="#32cd32"/>
<rect x="235" y="310" width="3" height="5" fill="#32cd32"/>
<rect x="240" y="298" width="1" height="17" fill="#ff0000"/>
<rect x="239" y="312" width="3" height="3" fill="#ff0000"/>
<rect x="244" y="301" width="1" height="20" fill="#32cd32"/>
<rect x="243" y="312" width="3" height="5" fill="#32cd32"/>
<rect x="248" y="311" width="1" height="32" fill="#32cd32"/>
<rect x="247" y="315" width="3" height="14" fill="#32cd32"/>
<rect x="252" y="304" width="1" height="33" fill="#ff0000"/>
<rect x="251" y="308" width="3" height="21" fill="#ff0000"/>
<rect x="252" y="309" width="1" height="19" fill="#ff4a00"/>
<rect x="256" y="306" width="1" height="15" fill="#32cd32"/>
<rect x="255" y="308" width="3" height="6" fill="#32cd32"/>
<rect x="260" y="309" width="1" height="29" fill="#32cd32"/>
<rect x="259" y="312" width="3" height="21" fill="#32cd32"/>
<rect x="264" y="306" width="1" height="33" fill="#ff0000"/>
<rect x="263" y="307" width="3" height="26" fill="#ff0000"/>
<rect x="264" y="308" width="1" height="24" fill="#ff4a00"/>
<rect x="268" y="295" width="1" height="31" fill="#32cd32"/>
<rect x="267" y="307" width="3" height="19" fill="#32cd32"/>
<rect x="272" y="276" width="1" height="51" fill="#ff0000"/>
<rect x="271" y="284" width="3" height="42" fill="#ff0000"/>
<rect x="272" y="285" width="1" height="40" fill="#ff4a00"/>
<rect x="276" y="257" width="1" height="29" fill="#ff0000"/>
<rect x="275" y="259" width="3" height="27" fill="#ff0000"/>
<rect x="276" y="260" width="1" height="25" fill="#ff4a00"/>
<rect x="280" y="259" width="1" height="13" fill="#32cd32"/>
<rect x="279" y="259" width="3" height="10" fill="#32cd32"/>
<rect x="284" y="259" width="1" height="16" fill="#ff0000"/>
<rect x="283" y="264" width="3" height="5" fill="#ff0000"/>
<rect x="284" y="265" width="1" height="3" fill="#ff4a00"/>
<rect x="288" y="246" width="1" height="19" fill="#ff0000"/>
<rect x="287" y="250" width="3" height="15" fill="#ff0000"/>
<rect x="288" y="251" width="1" height="13" fill="#ff4a00"/>
<rect x="292" y="240" width="1" height="22" fill="#ff0000"/>
<rect x="291" y="248" width="3" height="4" fill="#ff0000"/>
<rect x="292" y="249" width="1" height="2" fill="#ff4a00"/>
<rect x="296" y="224" width="1" height="31" fill="#ff0000"/>
<rect x="295" y="245" width="3" height="5" fill="#ff0000"/>
<rect x="296" y="246" width="1" height="3" fill="#ff4a00"/>
<rect x="300" y="236" width="1" height="49" fill="#32cd32"/>
<rect x="299" y="245" width="3" height="35" fill="#32cd32"/>
<rect x="304" y="273" width="1" height="7" fill="#ff0000"/>
<rect x="303" y="276" width="3" height="4" fill="#ff0000"/>
<rect x="304" y="277" width="1" height="2" fill="#ff4a00"/>
<rect x="308" y="264" width="1" height="12" fill="#ff0000"/>
<rect x="307" y="271" width="3" height="5" fill="#ff0000"/>
<rect x="308" y="272" width="1" height="3" fill="#ff4a00"/>
<rect x="312" y="269" width="1" height="22" fill="#32cd32"/>
<rect x="311" y="271" width="3" height="13" fill="#32cd32"/>
<rect x="316" y="270" width="1" height="24" fill="#ff0000"/>
<rect x="315" y="281" width="3" height="3" fill="#ff0000"/>
<rect x="320" y="280" width="1" height="57" fill="#32cd32"/>
<rect x="319" y="280" width="3" height="49" fill="#32cd32"/>
<rect x="324" y="268" width="1" height="67" fill="#ff0000"/>
<rect x="323" y="277" width="3" height="52" fill="#ff0000"/>
<rect x="324" y="278" width="1" height="50" fill="#ff4a00"/>
<rect x="328" y="254" width="1" height="26" fill="#ff0000"/>
<rect x="327" y="255" width="3" height="24" fill="#ff0000"/>
<rect x="328" y="256" width="1" height="22" fill="#ff4a00"/>
<rect x="332" y="254" width="1" height="15" fill="#32cd32"/>
<rect x="331" y="255" width="3" height="10" fill="#32cd32"/>
<rect x="336" y="255" width="1" height="18" fill="#32cd32"/>
<rect x="335" y="263" width="3" height="8" fill="#32cd32"/>
<rect x="340" y="263" width="1" height="18" fill="#32cd32"/>
<rect x="339" y="269" width="3" height="4" fill="#32cd32"/>
<rect x="344" y="269" width="1" height="24" fill="#32cd32"/>
<rect x="343" y="271" width="3" height="8" fill="#32cd32"/>
<rect x="348" y="266" width="1" height="35" fill="#32cd32"/>
<rect x="347" y="277" width="3" height="10" fill="#32cd32"/>
<rect x="352" y="282" width="1" height="28" fill="#32cd32"/>
<rect x="351" y="285" width="3" height="14" fill="#32cd32"/>
<rect x="356" y="285" width="1" height="20" fill="#ff0000"/>
<rect x="355" y="289" width="3" height="10" fill="#ff0000"/>
<rect x="356" y="290" width="1" height="8" fill="#ff4a00"/>
<rect x="360" y="285" width="1" height="13" fill="#ff0000"/>
<rect x="359" y="288" width="3" height="3" fill="#ff0000"/>
<rect x="364" y="259" width="1" height="32" fill="#ff0000"/>
<rect x="363" y="265" width="3" height="25" fill="#ff0000"/>
<rect x="364" y="266" width="1" height="23" fill="#ff4a00"/>
<rect x="368" y="237" width="1" height="30" fill="#ff0000"/>
<rect x="367" y="241" width="3" height="26" fill="#ff0000"/>
<rect x="368" y="242" width="1" height="24" fill="#ff4a00"/>
<rect x="372" y="232" width="1" height="27" fill="#32cd32"/>
<rect x="371" y="241" width="3" height="10" fill="#32cd32"/>
<rect x="376" y="216" width="1" height="38" fill="#ff0000"/>
<rect x="375" y="225" width="3" height="26" fill="#ff0000"/>
<rect x="376" y="226" width="1" height="24" fill="#ff4a00"/>
<rect x="380" y="220" width="1" height="13" fill="#ff0000"/>
<rect x="379" y="221" width="3" height="6" fill="#ff0000"/>
<rect x="380" y="222" width="1" height="4" fill="#ff4a00"/>
<rect x="384" y="210" width="1" height="19" fill="#32cd32"/>
<rect x="383" y="221" width="3" height="4" fill="#32cd32"/>
<rect x="388" y="209" width="1" height="21" fill="#32cd32"/>
<rect x="387" y="223" width="3" height="4" fill="#32cd32"/>
<rect x="392" y="204" width="1" height="31" fill="#ff0000"/>
<rect x="391" y="204" width="3" height="21" fill="#ff0000"/>
<rect x="392" y="205" width="1" height="19" fill="#ff4a00"/>
<rect x="396" y="175" width="1" height="73" fill="#32cd32"/>
<rect x="395" y="204" width="3" height="37" fill="#32cd32"/>
<rect x="400" y="215" width="1" height="30" fill="#ff0000"/>
<rect x="399" y="220" width="3" height="21" fill="#ff0000"/>
<rect x="400" y="221" width="1" height="19" fill="#ff4a00"/>
<rect x="404" y="208" width="1" height="15" fill="#ff0000"/>
<rect x="403" y="213" width="3" height="9" fill="#ff0000"/>
<rect x="404" y="214" width="1" height="7" fill="#ff4a00"/>
<rect x="408" y="206" width="1" height="30" fill="#ff0000"/>
<rect x="407" y="210" width="3" height="5" fill="#ff0000"/>
<rect x="408" y="211" width="1" height="3" fill="#ff4a00"/>
<rect x="412" y="201" width="1" height="22" fill="#32cd32"/>
<rect x="411" y="211" width="3" height="7" fill="#32cd32"/>
<rect x="416" y="183" width="1" height="38" fill="#ff0000"/>
<rect x="415" y="198" width="3" height="19" fill="#ff0000"/>
<rect x="416" y="199" width="1" height="17" fill="#ff4a00"/>
<rect x="420" y="178" width="1" height="43" fill="#ff0000"/>
<rect x="419" y="185" width="3" height="14" fill="#ff0000"/>
<rect x="420" y="186" width="1" height="12" fill="#ff4a00"/>
<rect x="424" y="179" width="1" height="32" fill="#32cd32"/>
<rect x="423" y="185" width="3" height="4" fill="#32cd32"/>
<rect x="428" y="186" width="1" height="7" fill="#32cd32"/>
<rect x="427" y="187" width="3" height="6" fill="#32cd32"/>
<rect x="432" y="204" width="1" height="10" fill="#ff0000"/>
<rect x="431" y="207" width="3" height="4" fill="#ff0000"/>
<rect x="432" y="208" width="1" height="2" fill="#ff4a00"/>
<rect x="436" y="189" width="1" height="37" fill="#ff0000"/>
<rect x="435" y="196" width="3" height="14" fill="#ff0000"/>
<rect x="436" y="197" width="1" height="12" fill="#ff4a00"/>
<rect x="440" y="191" width="1" height="34" fill="#32cd32"/>
<rect x="439" y="196" width="3" height="17" fill="#32cd32"/>
<rect x="444" y="205" width="1" height="45" fill="#32cd32"/>
<rect x="443" y="211" width="3" height="33" fill="#32cd32"/>
<rect x="448" y="220" width="1" height="74" fill="#32cd32"/>
<rect x="447" y="242" width="3" height="38" fill="#32cd32"/>
<rect x="452" y="270" width="1" height="40" fill="#32cd32"/>
<rect x="451" y="278" width="3" height="29" fill="#32cd32"/>
<rect x="456" y="292" width="1" height="16" fill="#ff0000"/>
<rect x="455" y="299" width="3" height="8" fill="#ff0000"/>
<rect x="456" y="300" width="1" height="6" fill="#ff4a00"/>
<rect x="460" y="297" width="1" height="37" fill="#32cd32"/>
<rect x="459" y="299" width="3" height="17" fill="#32cd32"/>
<rect x="464" y="287" width="1" height="31" fill="#ff0000"/>
<rect x="463" y="288" width="3" height="28" fill="#ff0000"/>
<rect x="464" y="289" width="1" height="26" fill="#ff4a00"/>
<rect x="468" y="279" width="1" height="51" fill="#32cd32"/>
<rect x="467" y="288" width="3" height="23" fill="#32cd32"/>
<rect x="472" y="286" width="1" height="66" fill="#32cd32"/>
<rect x="471" y="309" width="3" height="31" fill="#32cd32"/>
<rect x="476" y="326" width="1" height="30" fill="#32cd32"/>
<rect x="475" y="338" width="3" height="9" fill="#32cd32"/>
<rect x="480" y="337" width="1" height="29" fill="#32cd32"/>
<rect x="479" y="346" width="3" height="11" fill="#32cd32"/>
<rect x="484" y="313" width="1" height="47" fill="#ff0000"/>
<rect x="483" y="317" width="3" height="40" fill="#ff0000"/>
<rect x="484" y="318" width="1" height="38" fill="#ff4a00"/>
<rect x="488" y="300" width="1" height="21" fill="#ff0000"/>
<rect x="487" y="310" width="3" height="9" fill="#ff0000"/>
<rect x="488" y="311" width="1" height="7" fill="#ff4a00"/>
<rect x="492" y="278" width="1" height="35" fill="#ff0000"/>
<rect x="491" y="286" width="3" height="26" fill="#ff0000"/>
<rect x="492" y="287" width="1" height="24" fill="#ff4a00"/>
<rect x="496" y="258" width="1" height="56" fill="#ff0000"/>
<rect x="495" y="264" width="3" height="23" fill="#ff0000"/>
<rect x="496" y="265" width="1" height="21" fill="#ff4a00"/>
<rect x="500" y="246" width="1" height="25" fill="#32cd32"/>
<rect x="499" y="264" width="3" height="3" fill="#32cd32"/>
<rect x="504" y="254" width="1" height="14" fill="#ff0000"/>
<rect x="503" y="256" width="3" height="11" fill="#ff0000"/>
<rect x="504" y="257" width="1" height="9" fill="#ff4a00"/>
<rect x="508" y="249" width="1" height="30" fill="#32cd32"/>
<rect x="507" y="256" width="3" height="20" fill="#32cd32"/>
<rect x="512" y="271" width="1" height="30" fill="#32cd32"/>
<rect x="511" y="274" width="3" height="14" fill="#32cd32"/>
<rect x="516" y="269" width="1" height="30" fill="#ff0000"/>
<rect x="515" y="282" width="3" height="6" fill="#ff0000"/>
<rect x="516" y="283" width="1" height="4" fill="#ff4a00"/>
<rect x="520" y="233" width="1" height="57" fill="#ff0000"/>
<rect x="519" y="250" width="3" height="34" fill="#ff0000"/>
<rect x="520" y="251" width="1" height="32" fill="#ff4a00"/>
<rect x="524" y="238" width="1" height="29" fill="#ff0000"/>
<rect x="523" y="239" width="3" height="12" fill="#ff0000"/>
<rect x="524" y="240" width="1" height="10" fill="#ff4a00"/>
<rect x="528" y="237" width="1" height="11" fill="#ff0000"/>
<rect x="527" y="238" width="3" height="3" fill="#ff0000"/>
<rect x="532" y="222" width="1" height="21" fill="#ff0000"/>
<rect x="531" y="227" width="3" height="12" fill="#ff0000"/>
<rect x="532" y="228" width="1" height="10" fill="#ff4a00"/>
<rect x="536" y="222" width="1" height="25" fill="#32cd32"/>
<rect x="535" y="227" width="3" height="15" fill="#32cd32"/>
<rect x="540" y="217" width="1" height="33" fill="#ff0000"/>
<rect x="539" y="228" width="3" height="14" fill="#ff0000"/>
<rect x="540" y="229" width="1" height="12" fill="#ff4a00"/>
<rect x="544" y="192" width="1" height="38" fill="#ff0000"/>
<rect x="543" y="194" width="3" height="36" fill="#ff0000"/>
<rect x="544" y="195" width="1" height="34" fill="#ff4a00"/>
<rect x="548" y="186" width="1" height="15" fill="#ff0000"/>
<rect x="547" y="189" width="3" height="7" fill="#ff0000"/>
<rect x="548" y="190" width="1" height="5" fill="#ff4a00"/>
<rect x="552" y="188" width="1" height="4" fill="#ff0000"/>
<rect x="551" y="188" width="3" height="3" fill="#ff0000"/>
<rect x="556" y="174" width="1" height="8" fill="#ff0000"/>
<rect x="555" y="175" width="3" height="3" fill="#ff0000"/>
<rect x="560" y="171" width="1" height="46" fill="#32cd32"/>
<rect x="559" y="175" width="3" height="36" fill="#32cd32"/>
<rect x="564" y="193" width="1" height="31" fill="#ff0000"/>
<rect x="563" y="207" width="3" height="5" fill="#ff0000"/>
<rect x="564" y="208" width="1" height="3" fill="#ff4a00"/>
<rect x="568" y="188" width="1" height="26" fill="#ff0000"/>
<rect x="567" y="200" width="3" height="9" fill="#ff0000"/>
<rect x="568" y="201" width="1" height="7" fill="#ff4a00"/>
<rect x="572" y="158" width="1" height="49" fill="#ff0000"/>
<rect x="571" y="160" width="3" height="41" fill="#ff0000"/>
<rect x="572" y="161" width="1" height="39" fill="#ff4a00"/>
<rect x="576" y="124" width="1" height="38" fill="#ff0000"/>
<rect x="575" y="134" width="3" height="27" fill="#ff0000"/>
<rect x="576" y="135" width="1" height="25" fill="#ff4a00"/>
<rect x="580" y="131" width="1" height="13" fill="#32cd32"/>
<rect x="579" y="133" width="3" height="6" fill="#32cd32"/>
<rect x="584" y="123" width="1" height="24" fill="#32cd32"/>
<rect x="583" y="137" width="3" height="7" fill="#32cd32"/>
<rect x="588" y="132" width="1" height="14" fill="#ff0000"/>
<rect x="587" y="138" width="3" height="6" fill="#ff0000"/>
<rect x="588" y="139" width="1" height="4" fill="#ff4a00"/>
<rect x="592" y="115" width="1" height="27" fill="#ff0000"/>
<rect x="591" y="118" width="3" height="22" fill="#ff0000"/>
<rect x="592" y="119" width="1" height="20" fill="#ff4a00"/>
<rect x="596" y="116" width="1" height="31" fill="#32cd32"/>
<rect x="595" y="118" width="3" height="25" fill="#32cd32"/>
<rect x="600" y="131" width="1" height="41" fill="#32cd32"/>
<rect x="599" y="141" width="3" height="24" fill="#32cd32"/>
<rect x="604" y="134" width="1" height="36" fill="#ff0000"/>
<rect x="603" y="140" width="3" height="25" fill="#ff0000"/>
<rect x="604" y="141" width="1" height="23" fill="#ff4a00"/>
<rect x="608" y="129" width="1" height="26" fill="#32cd32"/>
<rect x="607" y="140" width="3" height="10" fill="#32cd32"/>
<rect x="612" y="132" width="1" height="24" fill="#ff0000"/>
<rect x="611" y="133" width="3" height="15" fill="#ff0000"/>
<rect x="612" y="134" width="1" height="13" fill="#ff4a00"/>
<rect x="616" y="125" width="1" height="22" fill="#ff0000"/>
<rect x="615" y="125" width="3" height="10" fill="#ff0000"/>
<rect x="616" y="126" width="1" height="8" fill="#ff4a00"/>
<rect x="620" y="117" width="1" height="82" fill="#32cd32"/>
<rect x="619" y="125" width="3" height="66" fill="#32cd32"/>
<rect x="624" y="185" width="1" height="26" fill="#32cd32"/>
<rect x="623" y="190" width="3" height="12" fill="#32cd32"/>
<rect x="628" y="237" width="1" height="29" fill="#32cd32"/>
<rect x="627" y="241" width="3" height="18" fill="#32cd32"/>
<rect x="632" y="217" width="1" height="43" fill="#ff0000"/>
<rect x="631" y="223" width="3" height="36" fill="#ff0000"/>
<rect x="632" y="224" width="1" height="34" fill="#ff4a00"/>
<rect x="636" y="218" width="1" height="25" fill="#32cd32"/>
<rect x="635" y="223" width="3" height="10" fill="#32cd32"/>
<rect x="640" y="232" width="1" height="45" fill="#32cd32"/>
<rect x="639" y="232" width="3" height="29" fill="#32cd32"/>
<rect x="644" y="218" width="1" height="76" fill="#ff0000"/>
<rect x="643" y="227" width="3" height="34" fill="#ff0000"/>
<rect x="644" y="228" width="1" height="32" fill="#ff4a00"/>
<rect x="648" y="193" width="1" height="38" fill="#ff0000"/>
<rect x="647" y="208" width="3" height="21" fill="#ff0000"/>
<rect x="648" y="209" width="1" height="19" fill="#ff4a00"/>
<rect x="652" y="205" width="1" height="8" fill="#ff0000"/>
<rect x="651" y="207" width="3" height="3" fill="#ff0000"/>
<rect x="656" y="198" width="1" height="26" fill="#32cd32"/>
<rect x="655" y="207" width="3" height="11" fill="#32cd32"/>
<rect x="660" y="199" width="1" height="19" fill="#ff0000"/>
<rect x="659" y="200" width="3" height="18" fill="#ff0000"/>
<rect x="660" y="201" width="1" height="16" fill="#ff4a00"/>
<rect x="664" y="190" width="1" height="19" fill="#ff0000"/>
<rect x="663" y="191" width="3" height="12" fill="#ff0000"/>
<rect x="664" y="192" width="1" height="10" fill="#ff4a00"/>
<rect x="668" y="181" width="1" height="28" fill="#32cd32"/>
<rect x="667" y="191" width="3" height="4" fill="#32cd32"/>
<rect x="672" y="180" width="1" height="33" fill="#ff0000"/>
<rect x="671" y="185" width="3" height="9" fill="#ff0000"/>
<rect x="672" y="186" width="1" height="7" fill="#ff4a00"/>
<rect x="676" y="182" width="1" height="7" fill="#32cd32"/>
<rect x="675" y="184" width="3" height="5" fill="#32cd32"/>
<rect x="680" y="188" width="1" height="13" fill="#ff0000"/>
<rect x="679" y="190" width="3" height="11" fill="#ff0000"/>
<rect x="680" y="191" width="1" height="9" fill="#ff4a00"/>
<rect x="684" y="178" width="1" height="18" fill="#ff0000"/>
<rect x="683" y="183" width="3" height="9" fill="#ff0000"/>
<rect x="684" y="184" width="1" height="7" fill="#ff4a00"/>
<rect x="688" y="172" width="1" height="15" fill="#ff0000"/>
<rect x="687" y="174" width="3" height="11" fill="#ff0000"/>
<rect x="688" y="175" width="1" height="9" fill="#ff4a00"/>
<rect x="692" y="168" width="1" height="23" fill="#32cd32"/>
<rect x="691" y="173" width="3" height="9" fill="#32cd32"/>
<rect x="696" y="172" width="1" height="37" fill="#32cd32"/>
<rect x="695" y="180" width="3" height="11" fill="#32cd32"/>
<rect x="700" y="182" width="1" height="20" fill="#ff0000"/>
<rect x="699" y="187" width="3" height="4" fill="#ff0000"/>
<rect x="700" y="188" width="1" height="2" fill="#ff4a00"/>
<rect x="704" y="184" width="1" height="22" fill="#32cd32"/>
<rect x="703" y="187" width="3" height="14" fill="#32cd32"/>
<rect x="708" y="195" width="1" height="14" fill="#ff0000"/>
<rect x="707" y="198" width="3" height="3" fill="#ff0000"/>
<rect x="712" y="198" width="1" height="19" fill="#32cd32"/>
<rect x="711" y="198" width="3" height="7" fill="#32cd32"/>
<rect x="716" y="182" width="1" height="23" fill="#ff0000"/>
<rect x="715" y="186" width="3" height="19" fill="#ff0000"/>
<rect x="716" y="187" width="1" height="17" fill="#ff4a00"/>
<rect x="720" y="175" width="1" height="31" fill="#32cd32"/>
<rect x="719" y="186" width="3" height="12" fill="#32cd32"/>
<rect x="724" y="190" width="1" height="19" fill="#ff0000"/>
<rect x="723" y="193" width="3" height="5" fill="#ff0000"/>
<rect x="724" y="194" width="1" height="3" fill="#ff4a00"/>
<rect x="728" y="182" width="1" height="20" fill="#ff0000"/>
<rect x="727" y="186" width="3" height="9" fill="#ff0000"/>
<rect x="728" y="187" width="1" height="7" fill="#ff4a00"/>
<rect x="732" y="178" width="1" height="15" fill="#ff0000"/>
<rect x="731" y="180" width="3" height="8" fill="#ff0000"/>
<rect x="732" y="181" width="1" height="6" fill="#ff4a00"/>
<rect x="736" y="178" width="1" height="14" fill="#32cd32"/>
<rect x="735" y="180" width="3" height="5" fill="#32cd32"/>
<rect x="740" y="171" width="1" height="16" fill="#ff0000"/>
<rect x="739" y="179" width="3" height="6" fill="#ff0000"/>
<rect x="740" y="180" width="1" height="4" fill="#ff4a00"/>
<rect x="744" y="176" width="1" height="32" fill="#32cd32"/>
<rect x="743" y="179" width="3" height="27" fill="#32cd32"/>
<rect x="748" y="183" width="1" height="25" fill="#ff0000"/>
<rect x="747" y="183" width="3" height="23" fill="#ff0000"/>
<rect x="748" y="184" width="1" height="21" fill="#ff4a00"/>
<rect x="752" y="182" width="1" height="6" fill="#32cd32"/>
<rect x="751" y="183" width="3" height="4" fill="#32cd32"/>
<rect x="756" y="178" width="1" height="15" fill="#ff0000"/>
<rect x="755" y="181" width="3" height="6" fill="#ff0000"/>
<rect x="756" y="182" width="1" height="4" fill="#ff4a00"/>
<rect x="760" y="176" width="1" height="14" fill="#ff0000"/>
<rect x="759" y="177" width="3" height="6" fill="#ff0000"/>
<rect x="760" y="178" width="1" height="4" fill="#ff4a00"/>
<rect x="764" y="174" width="1" height="10" fill="#ff0000"/>
<rect x="763" y="177" width="3" height="2" fill="#ff0000"/>
<rect x="768" y="130" width="1" height="55" fill="#ff0000"/>
<rect x="767" y="133" width="3" height="46" fill="#ff0000"/>
<rect x="768" y="134" width="1" height="44" fill="#ff4a00"/>
<rect x="772" y="126" width="1" height="17" fill="#32cd32"/>
<rect x="771" y="132" width="3" height="9" fill="#32cd32"/>
<rect x="776" y="132" width="1" height="11" fill="#ff0000"/>
<rect x="775" y="137" width="3" height="4" fill="#ff0000"/>
<rect x="776" y="138" width="1" height="2" fill="#ff4a00"/>
<rect x="780" y="127" width="1" height="16" fill="#ff0000"/>
<rect x="779" y="135" width="3" height="4" fill="#ff0000"/>
<rect x="780" y="136" width="1" height="2" fill="#ff4a00"/>
<rect x="784" y="132" width="1" height="13" fill="#ff0000"/>
<rect x="783" y="134" width="3" height="4" fill="#ff0000"/>
<rect x="784" y="135" width="1" height="2" fill="#ff4a00"/>
<rect x="788" y="123" width="1" height="28" fill="#32cd32"/>
<rect x="787" y="134" width="3" height="13" fill="#32cd32"/>
<rect x="792" y="129" width="1" height="26" fill="#ff0000"/>
<rect x="791" y="130" width="3" height="17" fill="#ff0000"/>
<rect x="792" y="131" width="1" height="15" fill="#ff4a00"/>
<rect x="796" y="119" width="1" height="17" fill="#ff0000"/>
<rect x="795" y="120" width="3" height="13" fill="#ff0000"/>
<rect x="796" y="121" width="1" height="11" fill="#ff4a00"/>
<rect x="800" y="120" width="1" height="3" fill="#32cd32"/>
<rect x="799" y="120" width="3" height="3" fill="#32cd32"/>
<rect x="804" y="111" width="1" height="10" fill="#ff0000"/>
<rect x="803" y="114" width="3" height="7" fill="#ff0000"/>
<rect x="804" y="115" width="1" height="5" fill="#ff4a00"/>
<rect x="808" y="103" width="1" height="16" fill="#ff0000"/>
<rect x="807" y="109" width="3" height="7" fill="#ff0000"/>
<rect x="808" y="110" width="1" height="5" fill="#ff4a00"/>
<rect x="812" y="105" width="1" height="13" fill="#32cd32"/>
<rect x="811" y="109" width="3" height="3" fill="#32cd32"/>
<rect x="816" y="106" width="1" height="13" fill="#32cd32"/>
<rect x="815" y="110" width="3" height="3" fill="#32cd32"/>
<rect x="820" y="103" width="1" height="15" fill="#ff0000"/>
<rect x="819" y="105" width="3" height="8" fill="#ff0000"/>
<rect x="820" y="106" width="1" height="6" fill="#ff4a00"/>
<rect x="824" y="103" width="1" height="5" fill="#ff0000"/>
<rect x="823" y="105" width="3" height="2" fill="#ff0000"/>
<rect x="828" y="83" width="1" height="13" fill="#ff0000"/>
<rect x="827" y="85" width="3" height="6" fill="#ff0000"/>
<rect x="828" y="86" width="1" height="4" fill="#ff4a00"/>
<rect x="832" y="76" width="1" height="21" fill="#ff0000"/>
<rect x="831" y="76" width="3" height="11" fill="#ff0000"/>
<rect x="832" y="77" width="1" height="9" fill="#ff4a00"/>
<rect x="836" y="59" width="1" height="21" fill="#ff0000"/>
<rect x="835" y="63" width="3" height="15" fill="#ff0000"/>
<rect x="836" y="64" width="1" height="13" fill="#ff4a00"/>
<rect x="840" y="60" width="1" height="19" fill="#32cd32"/>
<rect x="839" y="63" width="3" height="8" fill="#32cd32"/>
<rect x="844" y="51" width="1" height="52" fill="#32cd32"/>
<rect x="843" y="69" width="3" height="29" fill="#32cd32"/>
<rect x="848" y="82" width="1" height="55" fill="#32cd32"/>
<rect x="847" y="96" width="3" height="26" fill="#32cd32"/>
<rect x="852" y="115" width="1" height="12" fill="#32cd32"/>
<rect x="851" y="120" width="3" height="4" fill="#32cd32"/>
<rect x="856" y="113" width="1" height="14" fill="#ff0000"/>
<rect x="855" y="122" width="3" height="2" fill="#ff0000"/>
<rect x="860" y="97" width="1" height="34" fill="#ff0000"/>
<rect x="859" y="99" width="3" height="24" fill="#ff0000"/>
<rect x="860" y="100" width="1" height="22" fill="#ff4a00"/>
<rect x="864" y="95" width="1" height="24" fill="#32cd32"/>
<rect x="863" y="99" width="3" height="20" fill="#32cd32"/>
<rect x="868" y="82" width="1" height="37" fill="#ff0000"/>
<rect x="867" y="105" width="3" height="14" fill="#ff0000"/>
<rect x="868" y="106" width="1" height="12" fill="#ff4a00"/>
<rect x="872" y="92" width="1" height="35" fill="#32cd32"/>
<rect x="871" y="105" width="3" height="21" fill="#32cd32"/>
<rect x="876" y="122" width="1" height="31" fill="#32cd32"/>
<rect x="875" y="124" width="3" height="28" fill="#32cd32"/>
<rect x="880" y="142" width="1" height="31" fill="#32cd32"/>
<rect x="879" y="150" width="3" height="4" fill="#32cd32"/>
<rect x="884" y="141" width="1" height="17" fill="#32cd32"/>
<rect x="883" y="152" width="3" height="4" fill="#32cd32"/>
<rect x="888" y="147" width="1" height="22" fill="#32cd32"/>
<rect x="887" y="154" width="3" height="13" fill="#32cd32"/>
<rect x="892" y="94" width="1" height="85" fill="#ff0000"/>
<rect x="891" y="98" width="3" height="69" fill="#ff0000"/>
<rect x="892" y="99" width="1" height="67" fill="#ff4a00"/>
<rect x="896" y="86" width="1" height="16" fill="#ff0000"/>
<rect x="895" y="91" width="3" height="9" fill="#ff0000"/>
<rect x="896" y="92" width="1" height="7" fill="#ff4a00"/>
<rect x="900" y="83" width="1" height="12" fill="#ff0000"/>
<rect x="899" y="88" width="3" height="5" fill="#ff0000"/>
<rect x="900" y="89" width="1" height="3" fill="#ff4a00"/>
<rect x="904" y="88" width="1" height="15" fill="#32cd32"/>
<rect x="903" y="88" width="3" height="14" fill="#32cd32"/>
<rect x="908" y="94" width="1" height="24" fill="#32cd32"/>
<rect x="907" y="100" width="3" height="16" fill="#32cd32"/>
<rect x="912" y="98" width="1" height="21" fill="#ff0000"/>
<rect x="911" y="105" width="3" height="11" fill="#ff0000"/>
<rect x="912" y="106" width="1" height="9" fill="#ff4a00"/>
<rect x="916" y="59" width="1" height="49" fill="#ff0000"/>
<rect x="915" y="72" width="3" height="35" fill="#ff0000"/>
<rect x="916" y="73" width="1" height="33" fill="#ff4a00"/>
<rect x="920" y="45" width="1" height="31" fill="#ff0000"/>
<rect x="919" y="47" width="3" height="27" fill="#ff0000"/>
<rect x="920" y="48" width="1" height="25" fill="#ff4a00"/>
<rect x="924" y="45" width="1" height="5" fill="#ff0000"/>
<rect x="923" y="46" width="3" height="2" fill="#ff0000"/>
</g>
<rect x="1168" y="41" width="39" height="4" fill="#000"/>
<rect x="1168" y="44" width="39" height="11" fill="#ff0000"/>
<rect x="1168" y="87" width="39" height="11" fill="#7cfc00"/>
<rect x="1168" y="138" width="39" height="11" fill="#0000ff"/>
<rect x="1168" y="188" width="39" height="11" fill="#0000ff"/>
<rect x="1168" y="231" width="39" height="11" fill="#0000ff"/>
<rect x="3" y="458" width="3" height="3" fill="#c0c0c0"/>
<rect x="7" y="456" width="3" height="2" fill="#c0c0c0"/>
<rect x="11" y="453" width="3" height="5" fill="#c0c0c0"/>
<rect x="15" y="451" width="3" height="7" fill="#c0c0c0"/>
<rect x="19" y="448" width="3" height="10" fill="#c0c0c0"/>
<rect x="23" y="444" width="3" height="14" fill="#c0c0c0"/>
<rect x="27" y="440" width="3" height="18" fill="#c0c0c0"/>
<rect x="31" y="437" width="3" height="21" fill="#c0c0c0"/>
<rect x="35" y="436" width="3" height="22" fill="#c0c0c0"/>
<rect x="39" y="436" width="3" height="22" fill="#c0c0c0"/>
<rect x="43" y="436" width="3" height="22" fill="#c0c0c0"/>
<rect x="47" y="436" width="3" height="22" fill="#c0c0c0"/>
<rect x="51" y="432" width="3" height="26" fill="#c0c0c0"/>
<rect x="55" y="431" width="3" height="27" fill="#c0c0c0"/>
<rect x="59" y="428" width="3" height="30" fill="#c0c0c0"/>
<rect x="63" y="425" width="3" height="33" fill="#c0c0c0"/>
<rect x="67" y="424" width="3" height="34" fill="#c0c0c0"/>
<rect x="71" y="424" width="3" height="34" fill="#c0c0c0"/>
<rect x="75" y="424" width="3" height="34" fill="#c0c0c0"/>
<rect x="79" y="423" width="3" height="35" fill="#c0c0c0"/>
<rect x="83" y="424" width="3" height="34" fill="#c0c0c0"/>
<rect x="87" y="424" width="3" height="34" fill="#c0c0c0"/>
<rect x="91" y="426" width="3" height="32" fill="#c0c0c0"/>
<rect x="95" y="431" width="3" height="27" fill="#c0c0c0"/>
<rect x="99" y="438" width="3" height="20" fill="#c0c0c0"/>
<rect x="103" y="443" width="3" height="15" fill="#c0c0c0"/>
<rect x="107" y="447" width="3" height="11" fill="#c0c0c0"/>
<rect x="111" y="450" width="3" height="8" fill="#c0c0c0"/>
<rect x="115" y="452" width="3" height="6" fill="#c0c0c0"/>
<rect x="119" y="453" width="3" height="5" fill="#c0c0c0"/>
<rect x="123" y="458" width="3" height="1" fill="#c0c0c0"/>
<rect x="127" y="458" width="3" height="3" fill="#c0c0c0"/>
<rect x="131" y="458" width="3" height="4" fill="#c0c0c0"/>
<rect x="135" y="458" width="3" height="4" fill="#c0c0c0"/>
<rect x="139" y="458" width="3" height="3" fill="#c0c0c0"/>
<rect x="143" y="458" width="3" height="3" fill="#c0c0c0"/>
<rect x="147" y="458" width="3" height="2" fill="#c0c0c0"/>
<rect x="151" y="458" width="3" height="2" fill="#c0c0c0"/>
<rect x="155" y="458" width="3" height="2" fill="#c0c0c0"/>
<rect x="159" y="458" width="3" height="2" fill="#c0c0c0"/>
<rect x="163" y="458" width="3" height="2" fill="#c0c0c0"/>
<rect x="167" y="458" width="3" height="4" fill="#c0c0c0"/>
<rect x="171" y="458" width="3" height="5" fill="#c0c0c0"/>
<rect x="175" y="458" width="3" height="7" fill="#c0c0c0"/>
<rect x="179" y="458" width="3" height="8" fill="#c0c0c0"/>
<rect x="183" y="458" width="3" height="10" fill="#c0c0c0"/>
<rect x="187" y="458" width="3" height="13" fill="#c0c0c0"/>
<rect x="191" y="458" width="3" height="17" fill="#c0c0c0"/>
<rect x="195" y="458" width="3" height="21" fill="#c0c0c0"/>
<rect x="199" y="458" width="3" height="25" fill="#c0c0c0"/>
<rect x="203" y="458" width="3" height="25" fill="#c0c0c0"/>
<rect x="207" y="458" width="3" height="24" fill="#c0c0c0"/>
<rect x="211" y="458" width="3" height="23" fill="#c0c0c0"/>
<rect x="215" y="458" width="3" height="23" fill="#c0c0c0"/>
<rect x="219" y="458" width="3" height="21" fill="#c0c0c0"/>
<rect x="223" y="458" width="3" height="18" fill="#c0c0c0"/>
<rect x="227" y="458" width="3" height="13" fill="#c0c0c0"/>
<rect x="231" y="458" width="3" height="10" fill="#c0c0c0"/>
<rect x="235" y="458" width="3" height="8" fill="#c0c0c0"/>
<rect x="239" y="458" width="3" height="6" fill="#c0c0c0"/>
<rect x="243" y="458" width="3" height="4" fill="#c0c0c0"/>
<rect x="247" y="458" width="3" height="4" fill="#c0c0c0"/>
<rect x="251" y="458" width="3" height="2" fill="#c0c0c0"/>
<rect x="255" y="458" width="3" height="1" fill="#c0c0c0"/>
<rect x="259" y="458" width="3" height="2" fill="#c0c0c0"/>
<rect x="263" y="458" width="3" height="1" fill="#c0c0c0"/>
<rect x="267" y="458" width="3" height="1" fill="#c0c0c0"/>
<rect x="271" y="455" width="3" height="3" fill="#c0c0c0"/>
<rect x="275" y="450" width="3" height="8" fill="#c0c0c0"/>
<rect x="279" y="448" width="3" height="10" fill="#c0c0c0"/>
<rect x="283" y="445" width="3" height="13" fill="#c0c0c0"/>
<rect x="287" y="442" width="3" height="16" fill="#c0c0c0"/>
<rect x="291" y="440" width="3" height="18" fill="#c0c0c0"/>
<rect x="295" y="439" width="3" height="19" fill="#c0c0c0"/>
<rect x="299" y="440" width="3" height="18" fill="#c0c0c0"/>
<rect x="303" y="441" width="3" height="17" fill="#c0c0c0"/>
<rect x="307" y="442" width="3" height="16" fill="#c0c0c0"/>
<rect x="311" y="444" width="3" height="14" fill="#c0c0c0"/>
<rect x="315" y="445" width="3" height="13" fill="#c0c0c0"/>
<rect x="319" y="451" width="3" height="7" fill="#c0c0c0"/>
<rect x="323" y="450" width="3" height="8" fill="#c0c0c0"/>
<rect x="327" y="449" width="3" height="9" fill="#c0c0c0"/>
<rect x="331" y="448" width="3" height="10" fill="#c0c0c0"/>
<rect x="335" y="447" width="3" height="11" fill="#c0c0c0"/>
<rect x="339" y="448" width="3" height="10" fill="#c0c0c0"/>
<rect x="343" y="449" width="3" height="9" fill="#c0c0c0"/>
<rect x="347" y="451" width="3" height="7" fill="#c0c0c0"/>
<rect x="351" y="453" width="3" height="5" fill="#c0c0c0"/>
<rect x="355" y="454" width="3" height="4" fill="#c0c0c0"/>
<rect x="359" y="455" width="3" height="3" fill="#c0c0c0"/>
<rect x="363" y="454" width="3" height="4" fill="#c0c0c0"/>
<rect x="367" y="452" width="3" height="6" fill="#c0c0c0"/>
<rect x="371" y="450" width="3" height="8" fill="#c0c0c0"/>
<rect x="375" y="446" width="3" height="12" fill="#c0c0c0"/>
<rect x="379" y="444" width="3" height="14" fill="#c0c0c0"/>
<rect x="383" y="442" width="3" height="16" fill="#c0c0c0"/>
<rect x="387" y="441" width="3" height="17" fill="#c0c0c0"/>
<rect x="391" y="439" width="3" height="19" fill="#c0c0c0"/>
<rect x="395" y="440" width="3" height="18" fill="#c0c0c0"/>
<rect x="399" y="440" width="3" height="18" fill="#c0c0c0"/>
<rect x="403" y="439" width="3" height="19" fill="#c0c0c0"/>
<rect x="407" y="439" width="3" height="19" fill="#c0c0c0"/>
<rect x="411" y="439" width="3" height="19" fill="#c0c0c0"/>
<rect x="415" y="438" width="3" height="20" fill="#c0c0c0"/>
<rect x="419" y="436" width="3" height="22" fill="#c0c0c0"/>
<rect x="423" y="435" width="3" height="23" fill="#c0c0c0"/>
<rect x="427" y="435" width="3" height="23" fill="#c0c0c0"/>
<rect x="431" y="438" width="3" height="20" fill="#c0c0c0"/>
<rect x="435" y="438" width="3" height="20" fill="#c0c0c0"/>
<rect x="439" y="439" width="3" height="19" fill="#c0c0c0"/>
<rect x="443" y="443" width="3" height="15" fill="#c0c0c0"/>
<rect x="447" y="450" width="3" height="8" fill="#c0c0c0"/>
<rect x="451" y="458" width="3" height="1" fill="#c0c0c0"/>
<rect x="455" y="458" width="3" height="6" fill="#c0c0c0"/>
<rect x="459" y="458" width="3" height="11" fill="#c0c0c0"/>
<rect x="463" y="458" width="3" height="13" fill="#c0c0c0"/>
<rect x="467" y="458" width="3" height="17" fill="#c0c0c0"/>
<rect x="471" y="458" width="3" height="21" fill="#c0c0c0"/>
<rect x="475" y="458" width="3" height="26" fill="#c0c0c0"/>
<rect x="479" y="458" width="3" height="29" fill="#c0c0c0"/>
<rect x="483" y="458" width="3" height="29" fill="#c0c0c0"/>
<rect x="487" y="458" width="3" height="27" fill="#c0c0c0"/>
<rect x="491" y="458" width="3" height="24" fill="#c0c0c0"/>
<rect x="495" y="458" width="3" height="19" fill="#c0c0c0"/>
<rect x="499" y="458" width="3" height="15" fill="#c0c0c0"/>
<rect x="503" y="458" width="3" height="11" fill="#c0c0c0"/>
<rect x="507" y="458" width="3" height="10" fill="#c0c0c0"/>
<rect x="511" y="458" width="3" height="9" fill="#c0c0c0"/>
<rect x="515" y="458" width="3" height="9" fill="#c0c0c0"/>
<rect x="519" y="458" width="3" height="5" fill="#c0c0c0"/>
<rect x="523" y="458" width="3" height="2" fill="#c0c0c0"/>
<rect x="527" y="456" width="3" height="2" fill="#c0c0c0"/>
<rect x="531" y="453" width="3" height="5" fill="#c0c0c0"/>
<rect x="535" y="451" width="3" height="7" fill="#c0c0c0"/>
<rect x="539" y="449" width="3" height="9" fill="#c0c0c0"/>
<rect x="543" y="445" width="3" height="13" fill="#c0c0c0"/>
<rect x="547" y="441" width="3" height="17" fill="#c0c0c0"/>
<rect x="551" y="439" width="3" height="19" fill="#c0c0c0"/>
<rect x="555" y="436" width="3" height="22" fill="#c0c0c0"/>
<rect x="559" y="436" width="3" height="22" fill="#c0c0c0"/>
<rect x="563" y="437" width="3" height="21" fill="#c0c0c0"/>
<rect x="567" y="437" width="3" height="21" fill="#c0c0c0"/>
<rect x="571" y="434" width="3" height="24" fill="#c0c0c0"/>
<rect x="575" y="430" width="3" height="28" fill="#c0c0c0"/>
<rect x="579" y="427" width="3" height="31" fill="#c0c0c0"/>
<rect x="583" y="426" width="3" height="32" fill="#c0c0c0"/>
<rect x="587" y="425" width="3" height="33" fill="#c0c0c0"/>
<rect x="591" y="423" width="3" height="35" fill="#c0c0c0"/>
<rect x="595" y="423" width="3" height="35" fill="#c0c0c0"/>
<rect x="599" y="426" width="3" height="32" fill="#c0c0c0"/>
<rect x="603" y="428" width="3" height="30" fill="#c0c0c0"/>
<rect x="607" y="428" width="3" height="30" fill="#c0c0c0"/>
<rect x="611" y="429" width="3" height="29" fill="#c0c0c0"/>
<rect x="615" y="428" width="3" height="30" fill="#c0c0c0"/>
<rect x="619" y="434" width="3" height="24" fill="#c0c0c0"/>
<rect x="623" y="440" width="3" height="18" fill="#c0c0c0"/>
<rect x="627" y="449" width="3" height="9" fill="#c0c0c0"/>
<rect x="631" y="454" width="3" height="4" fill="#c0c0c0"/>
<rect x="635" y="458" width="3" height="1" fill="#c0c0c0"/>
<rect x="639" y="458" width="3" height="7" fill="#c0c0c0"/>
<rect x="643" y="458" width="3" height="9" fill="#c0c0c0"/>
<rect x="647" y="458" width="3" height="8" fill="#c0c0c0"/>
<rect x="651" y="458" width="3" height="8" fill="#c0c0c0"/>
<rect x="655" y="458" width="3" height="8" fill="#c0c0c0"/>
<rect x="659" y="458" width="3" height="7" fill="#c0c0c0"/>
<rect x="663" y="458" width="3" height="5" fill="#c0c0c0"/>
<rect x="667" y="458" width="3" height="4" fill="#c0c0c0"/>
<rect x="671" y="458" width="3" height="3" fill="#c0c0c0"/>
<rect x="675" y="458" width="3" height="1" fill="#c0c0c0"/>
<rect x="679" y="458" width="3" height="1" fill="#c0c0c0"/>
<rect x="683" y="457" width="3" height="1" fill="#c0c0c0"/>
<rect x="687" y="455" width="3" height="3" fill="#c0c0c0"/>
<rect x="691" y="454" width="3" height="4" fill="#c0c0c0"/>
<rect x="695" y="455" width="3" height="3" fill="#c0c0c0"/>
<rect x="699" y="455" width="3" height="3" fill="#c0c0c0"/>
<rect x="703" y="456" width="3" height="2" fill="#c0c0c0"/>
<rect x="707" y="457" width="3" height="1" fill="#c0c0c0"/>
<rect x="711" y="458" width="3" height="1" fill="#c0c0c0"/>
<rect x="715" y="457" width="3" height="1" fill="#c0c0c0"/>
<rect x="719" y="458" width="3" height="1" fill="#c0c0c0"/>
<rect x="723" y="458" width="3" height="1" fill="#c0c0c0"/>
<rect x="727" y="457" width="3" height="1" fill="#c0c0c0"/>
<rect x="731" y="457" width="3" height="1" fill="#c0c0c0"/>
<rect x="735" y="457" width="3" height="1" fill="#c0c0c0"/>
<rect x="739" y="455" width="3" height="3" fill="#c0c0c0"/>
<rect x="743" y="458" width="3" height="1" fill="#c0c0c0"/>
<rect x="747" y="457" width="3" height="1" fill="#c0c0c0"/>
<rect x="751" y="457" width="3" height="1" fill="#c0c0c0"/>
<rect x="755" y="457" width="3" height="1" fill="#c0c0c0"/>
<rect x="759" y="456" width="3" height="2" fill="#c0c0c0"/>
<rect x="763" y="456" width="3" height="2" fill="#c0c0c0"/>
<rect x="767" y="451" width="3" height="7" fill="#c0c0c0"/>
<rect x="771" y="448" width="3" height="10" fill="#c0c0c0"/>
<rect x="775" y="446" width="3" height="12" fill="#c0c0c0"/>
<rect x="779" y="444" width="3" height="14" fill="#c0c0c0"/>
<rect x="783" y="443" width="3" height="15" fill="#c0c0c0"/>
<rect x="787" y="443" width="3" height="15" fill="#c0c0c0"/>
<rect x="791" y="442" width="3" height="16" fill="#c0c0c0"/>
<rect x="795" y="441" width="3" height="17" fill="#c0c0c0"/>
<rect x="799" y="440" width="3" height="18" fill="#c0c0c0"/>
<rect x="803" y="439" width="3" height="19" fill="#c0c0c0"/>
<rect x="807" y="438" width="3" height="20" fill="#c0c0c0"/>
<rect x="811" y="438" width="3" height="20" fill="#c0c0c0"/>
<rect x="815" y="437" width="3" height="21" fill="#c0c0c0"/>
<rect x="819" y="437" width="3" height="21" fill="#c0c0c0"/>
<rect x="823" y="437" width="3" height="21" fill="#c0c0c0"/>
<rect x="827" y="436" width="3" height="22" fill="#c0c0c0"/>
<rect x="831" y="434" width="3" height="24" fill="#c0c0c0"/>
<rect x="835" y="432" width="3" height="26" fill="#c0c0c0"/>
<rect x="839" y="431" width="3" height="27" fill="#c0c0c0"/>
<rect x="843" y="433" width="3" height="25" fill="#c0c0c0"/>
<rect x="847" y="437" width="3" height="21" fill="#c0c0c0"/>
<rect x="851" y="440" width="3" height="18" fill="#c0c0c0"/>
<rect x="855" y="443" width="3" height="15" fill="#c0c0c0"/>
<rect x="859" y="444" width="3" height="14" fill="#c0c0c0"/>
<rect x="863" y="446" width="3" height="12" fill="#c0c0c0"/>
<rect x="867" y="447" width="3" height="11" fill="#c0c0c0"/>
<rect x="871" y="449" width="3" height="9" fill="#c0c0c0"/>
<rect x="875" y="453" width="3" height="5" fill="#c0c0c0"/>
<rect x="879" y="456" width="3" height="2" fill="#c0c0c0"/>
<rect x="883" y="458" width="3" height="2" fill="#c0c0c0"/>
<rect x="887" y="458" width="3" height="6" fill="#c0c0c0"/>
<rect x="891" y="458" width="3" height="2" fill="#c0c0c0"/>
<rect x="895" y="456" width="3" height="2" fill="#c0c0c0"/>
<rect x="899" y="455" width="3" height="3" fill="#c0c0c0"/>
<rect x="903" y="453" width="3" height="5" fill="#c0c0c0"/>
<rect x="907" y="453" width="3" height="5" fill="#c0c0c0"/>
<rect x="911" y="453" width="3" height="5" fill="#c0c0c0"/>
<rect x="915" y="450" width="3" height="8" fill="#c0c0c0"/>
<rect x="919" y="445" width="3" height="13" fill="#c0c0c0"/>
<rect x="923" y="442" width="3" height="16" fill="#c0c0c0"/>
<g clip-path="url(#c2)">
<path d="M83 426.5h12M606 426.5h14M77 427.5h6M95 427.5h5M603 427.5h3M620 427.5h1M74 428.5h3M100 428.5h4M600 428.5h3M621 428.5h2M71 429.5h3M104 429.5h2M597 429.5h3M623 429.5h2M69 430.5h2M106 430.5h1M594 430.5h3M625 430.5h1M66 431.5h3M107 431.5h2M592 431.5h2M626 431.5h2M64 432.5h2M109 432.5h1M589 432.5h3M628 432.5h1M61 433.5h3M110 433.5h2M586 433.5h3M629 433.5h1M59 434.5h2M112 434.5h1M583 434.5h3M630 434.5h2M57 435.5h2M113 435.5h1M580 435.5h3M632 435.5h1M844 435.5h11M55 436.5h2M114 436.5h2M578 436.5h2M633 436.5h1M835 436.5h9M855 436.5h4M53 437.5h2M116.5 437v2M431 437.5h12M576 437.5h2M634 437.5h1M832 437.5h3M859 437.5h4M51 438.5h2M423 438.5h8M443 438.5h3M573 438.5h3M635 438.5h1M828 438.5h4M863 438.5h4M50 439.5h1M117 439.5h1M420 439.5h3M446 439.5h2M571 439.5h2M636 439.5h1M823 439.5h5M867 439.5h3M48 440.5h2M118 440.5h2M414 440.5h6M448 440.5h3M569 440.5h2M637 440.5h1M816 440.5h7M870 440.5h2M46 441.5h2M120 441.5h1M407 441.5h7M451 441.5h3M567 441.5h2M638 441.5h1M812 441.5h4M872 441.5h1M44 442.5h2M121 442.5h1M311 442.5h9M404 442.5h3M454 442.5h2M565 442.5h2M639 442.5h1M807 442.5h5M873 442.5h2M43 443.5h1M122 443.5h1M309 443.5h2M320 443.5h3M401 443.5h3M456 443.5h1M564 443.5h1M640 443.5h1M803 443.5h4M875 443.5h2M41 444.5h2M123 444.5h2M307 444.5h2M323 444.5h4M398 444.5h3M457 444.5h1M562 444.5h2M641 444.5h1M800 444.5h3M877 444.5h1M40 445.5h1M125 445.5h1M304 445.5h3M327 445.5h3M397 445.5h1M458 445.5h1M560 445.5h2M642 445.5h1M798 445.5h2M878 445.5h2M38 446.5h2M126 446.5h1M301 446.5h3M330 446.5h3M394 446.5h3M459 446.5h1M558 446.5h2M643 446.5h1M795 446.5h3M880 446.5h1M37 447.5h1M127 447.5h2M299 447.5h2M333 447.5h6M392 447.5h2M460 447.5h1M557 447.5h1M644 447.5h1M792 447.5h3M881 447.5h1M35 448.5h2M129 448.5h1M297 448.5h2M339 448.5h6M389 448.5h3M461.5 448v2M556 448.5h1M645 448.5h2M790 448.5h2M882 448.5h2M34 449.5h1M130 449.5h1M295 449.5h2M345 449.5h4M387 449.5h2M555 449.5h1M647 449.5h1M788 449.5h2M884 449.5h1M32 450.5h2M131 450.5h1M293 450.5h2M349 450.5h5M384 450.5h3M462 450.5h1M553 450.5h2M648 450.5h1M785 450.5h3M885 450.5h2M31 451.5h1M132 451.5h1M292 451.5h1M354 451.5h9M380 451.5h4M463 451.5h1M552 451.5h1M649 451.5h1M782 451.5h3M887 451.5h2M30 452.5h1M133 452.5h2M290 452.5h2M363 452.5h17M464 452.5h1M551 452.5h1M650 452.5h1M779 452.5h3M889 452.5h3M924 452.5h1M29 453.5h1M135 453.5h2M287 453.5h3M465 453.5h1M549 453.5h2M651 453.5h1M776 453.5h3M892 453.5h3M922 453.5h2M28 454.5h1M137 454.5h2M284 454.5h3M466 454.5h1M548 454.5h1M652 454.5h1M772 454.5h4M895 454.5h3M921 454.5h1M27 455.5h1M139 455.5h1M282 455.5h2M467 455.5h1M547 455.5h1M653 455.5h1M769 455.5h3M898 455.5h3M918 455.5h3M26 456.5h1M140 456.5h3M280 456.5h2M468 456.5h1M545 456.5h2M654 456.5h2M703 456.5h23M764 456.5h5M901 456.5h17M25 457.5h1M143 457.5h3M277 457.5h3M469 457.5h1M543 457.5h2M656 457.5h1M699 457.5h4M726 457.5h2M754 457.5h10M24 458.5h1M146 458.5h5M276 458.5h1M470 458.5h1M542 458.5h1M657 458.5h1M695 458.5h4M728 458.5h26M23 459.5h1M151 459.5h3M273 459.5h3M471 459.5h1M540 459.5h2M658 459.5h1M691 459.5h4M22 460.5h1M154 460.5h26M269 460.5h4M472 460.5h1M538 460.5h2M659 460.5h2M688 460.5h3M21 461.5h1M180 461.5h3M266 461.5h3M473 461.5h1M536 461.5h2M661 461.5h1M684 461.5h4M20 462.5h1M183 462.5h4M262 462.5h4M474 462.5h1M534 462.5h2M662 462.5h3M680 462.5h4M19 463.5h1M187 463.5h2M259 463.5h3M475 463.5h1M532 463.5h2M665 463.5h2M677 463.5h3M18 464.5h1M189 464.5h2M258 464.5h1M476 464.5h1M531 464.5h1M667 464.5h10M17 465.5h1M191 465.5h2M256 465.5h2M477.5 465v2M530 465.5h1M15 466.5h2M193 466.5h3M254 466.5h2M529 466.5h1M14 467.5h1M196 467.5h1M252 467.5h2M478 467.5h1M528 467.5h1M13 468.5h1M197 468.5h1M250 468.5h2M479.5 468v2M526 468.5h2M12 469.5h1M198 469.5h2M247 469.5h3M525 469.5h1M11 470.5h1M200 470.5h1M245 470.5h2M480 470.5h1M523 470.5h2M10 471.5h1M201 471.5h2M243 471.5h2M481 471.5h1M521 471.5h2M9 472.5h1M203 472.5h2M241 472.5h2M482 472.5h1M520 472.5h1M7 473.5h2M205 473.5h2M240 473.5h1M483 473.5h1M518 473.5h2M6 474.5h1M207 474.5h2M238 474.5h2M484 474.5h2M516 474.5h2M4 475.5h2M209 475.5h4M236 475.5h2M486 475.5h1M514 475.5h2M213 476.5h2M234 476.5h2M487 476.5h1M512 476.5h2M215 477.5h3M233 477.5h1M488 477.5h2M510 477.5h2M218 478.5h3M231 478.5h2M490 478.5h1M508 478.5h2M221 479.5h4M229 479.5h2M491 479.5h3M504 479.5h4M225 480.5h4M494 480.5h10" fill="none" stroke="#ff0000" stroke-width="1"/>
</g>
<line x1="5" y1="515.5" x2="1166" y2="515.5" stroke="#c0c0c0" stroke-width="1" stroke-dasharray="3,3"/>
<line x1="5" y1="544.5" x2="1166" y2="544.5" stroke="#c0c0c0" stroke-width="1" stroke-dasharray="3,3"/>
<path d="M835 508.5h1M832 509.5h3M836 509.5h3M830 510.5h2M839 510.5h1M828 511.5h2M840.5 511v2M827 512.5h1M60 513.5h5M826 513.5h1M841.5 513v2M58 514.5h2M65 514.5h1M592 514.5h1M824 514.5h2M53 515.5h5M66.5 515v2M578 515.5h3M590 515.5h2M593 515.5h1M819 515.5h5M842.5 515v3M52 516.5h1M77 516.5h1M556 516.5h1M575 516.5h3M581 516.5h3M588 516.5h2M594 516.5h1M805 516.5h14M28 517.5h1M51.5 517v2M67 517.5h1M75 517.5h2M78 517.5h4M554 517.5h2M557.5 517v2M574 517.5h1M584 517.5h4M595 517.5h1M769 517.5h1M796 517.5h9M26 518.5h2M29 518.5h2M68 518.5h1M72 518.5h3M82 518.5h2M88 518.5h1M391 518.5h2M420 518.5h7M545 518.5h9M573 518.5h1M596.5 518v2M768.5 518v2M770 518.5h1M779 518.5h6M795 518.5h1M843.5 518v2M923 518.5h2M24 519.5h2M31 519.5h7M50 519.5h1M69 519.5h3M84 519.5h4M89.5 519v2M289 519.5h8M378 519.5h5M390 519.5h1M393.5 519v2M419 519.5h1M427 519.5h1M544 519.5h1M558.5 519v3M572 519.5h1M771 519.5h8M785 519.5h1M792 519.5h3M919 519.5h4M22 520.5h2M38 520.5h2M49 520.5h1M277 520.5h1M287 520.5h2M297 520.5h1M377 520.5h1M383 520.5h7M417 520.5h2M428 520.5h1M543 520.5h1M571 520.5h1M597 520.5h1M616 520.5h1M767.5 520v2M786 520.5h1M791 520.5h1M844.5 520v2M918 520.5h1M21 521.5h1M40 521.5h2M47 521.5h2M90 521.5h1M275 521.5h2M278 521.5h2M285 521.5h2M298.5 521v3M375 521.5h2M394 521.5h1M416 521.5h1M429.5 521v2M542.5 521v2M570.5 521v2M598 521.5h1M613 521.5h3M617.5 521v3M787 521.5h1M790 521.5h1M917 521.5h1M7 522.5h3M20 522.5h1M42 522.5h5M91 522.5h1M274 522.5h1M280 522.5h5M369 522.5h1M374 522.5h1M395.5 522v3M404 522.5h8M414 522.5h2M436 522.5h1M532 522.5h1M559.5 522v2M599.5 522v2M603 522.5h4M611 522.5h2M766.5 522v2M788 522.5h2M845.5 522v2M916.5 522v2M5 523.5h2M10 523.5h2M19 523.5h1M92 523.5h1M273 523.5h1M367 523.5h2M370 523.5h2M373 523.5h1M401 523.5h3M412 523.5h2M430 523.5h2M434 523.5h2M437 523.5h1M530 523.5h2M533 523.5h1M541 523.5h1M569 523.5h1M601 523.5h2M607 523.5h1M609 523.5h2M894 523.5h8M4 524.5h1M12 524.5h1M15 524.5h4M93 524.5h2M272.5 524v2M299.5 524v2M329 524.5h1M366 524.5h1M372 524.5h1M399 524.5h2M432 524.5h2M438 524.5h1M523 524.5h7M534 524.5h2M539 524.5h2M560 524.5h1M567 524.5h2M600 524.5h1M608 524.5h1M618.5 524v3M765.5 524v2M846.5 524v2M893 524.5h1M902 524.5h1M915 524.5h1M13 525.5h2M95 525.5h2M307 525.5h2M328 525.5h1M330 525.5h3M365 525.5h1M396 525.5h1M398 525.5h1M439 525.5h1M521 525.5h2M536 525.5h1M538 525.5h1M561 525.5h6M860 525.5h1M892.5 525v2M903 525.5h2M914 525.5h1M97.5 526v3M228 526.5h1M253 526.5h2M271.5 526v2M300 526.5h7M309 526.5h2M326 526.5h2M333 526.5h2M364.5 526v2M397 526.5h1M440 526.5h1M504 526.5h1M520 526.5h1M537 526.5h1M686 526.5h4M732 526.5h1M740 526.5h1M763 526.5h2M847.5 526v2M859 526.5h1M861 526.5h2M868 526.5h1M905 526.5h1M913.5 526v2M226 527.5h2M229 527.5h3M252 527.5h1M255 527.5h1M311 527.5h1M325 527.5h1M335 527.5h7M441.5 527v2M497 527.5h1M502 527.5h2M505 527.5h1M519.5 527v2M619.5 527v3M672 527.5h1M684 527.5h2M690 527.5h2M730 527.5h2M733 527.5h4M738 527.5h2M741 527.5h1M757 527.5h6M858 527.5h1M863.5 527v2M867 527.5h1M869 527.5h1M891.5 527v5M906 527.5h2M149 528.5h3M225 528.5h1M232 528.5h14M251 528.5h1M256 528.5h1M264 528.5h2M270 528.5h1M312 528.5h5M324.5 528v2M342 528.5h1M344 528.5h1M363 528.5h1M496 528.5h1M498 528.5h4M506 528.5h2M663 528.5h9M673 528.5h11M692 528.5h2M699 528.5h1M717 528.5h1M728 528.5h2M737 528.5h1M742.5 528v2M749 528.5h8M848.5 528v2M857 528.5h1M866 528.5h1M870 528.5h1M908 528.5h5M98.5 529v2M140 529.5h2M147 529.5h2M152 529.5h5M224 529.5h1M246 529.5h1M250 529.5h1M258.5 529v2M263 529.5h1M266 529.5h2M269 529.5h1M317.5 529v2M346 529.5h1M348 529.5h1M362 529.5h1M442 529.5h1M495 529.5h1M508 529.5h1M518 529.5h1M662 529.5h1M694 529.5h2M697 529.5h2M700 529.5h1M716 529.5h1M718 529.5h1M725 529.5h3M748 529.5h1M856 529.5h1M864 529.5h2M871.5 529v2M139 530.5h1M142 530.5h1M146 530.5h1M157 530.5h2M164 530.5h1M223 530.5h1M247 530.5h3M260 530.5h1M262 530.5h1M268 530.5h1M323.5 530v3M349 530.5h1M357 530.5h5M443.5 530v2M494 530.5h1M509 530.5h1M517 530.5h1M620.5 530v2M653 530.5h1M660 530.5h2M696 530.5h1M701 530.5h2M715 530.5h1M719 530.5h6M743.5 530v2M747 530.5h1M849 530.5h7M99.5 531v3M116 531.5h5M137 531.5h2M143 531.5h3M159 531.5h1M162 531.5h2M165 531.5h2M222.5 531v2M261 531.5h1M318.5 531v2M350 531.5h1M355 531.5h2M493 531.5h1M510 531.5h3M514 531.5h3M648 531.5h5M654 531.5h1M658 531.5h2M703 531.5h7M714 531.5h1M746 531.5h1M872 531.5h1M110 532.5h6M121.5 532v2M135 532.5h2M160 532.5h2M167 532.5h2M351 532.5h4M444 532.5h1M492 532.5h1M513 532.5h1M621 532.5h4M646 532.5h2M655 532.5h3M710 532.5h2M713 532.5h1M744 532.5h2M873 532.5h1M890.5 532v3M108 533.5h2M128 533.5h7M169 533.5h3M221 533.5h1M319.5 533v2M322.5 533v2M445.5 533v2M491 533.5h1M625 533.5h1M645 533.5h1M712 533.5h1M874 533.5h1M100.5 534v2M106 534.5h2M122 534.5h1M127.5 534v2M172 534.5h2M212 534.5h1M220 534.5h1M490 534.5h1M626.5 534v2M633 534.5h1M644 534.5h1M875.5 534v2M105 535.5h1M123.5 535v2M174 535.5h5M210 535.5h2M213 535.5h1M219 535.5h1M320 535.5h2M446 535.5h1M489 535.5h1M632 535.5h1M634 535.5h3M643 535.5h1M889.5 535v4M101 536.5h4M126 536.5h1M179 536.5h3M205 536.5h5M214 536.5h1M218 536.5h1M447.5 536v2M465 536.5h1M485 536.5h4M627.5 536v2M631.5 536v2M637 536.5h1M642 536.5h1M876 536.5h7M124 537.5h2M182 537.5h2M204.5 537v2M215 537.5h1M217 537.5h1M464 537.5h1M466 537.5h1M484 537.5h1M638 537.5h2M641 537.5h1M883 537.5h2M184 538.5h1M216 538.5h1M448 538.5h2M463.5 538v2M467 538.5h1M483.5 538v2M628.5 538v2M630 538.5h1M640 538.5h1M885 538.5h3M185 539.5h2M203.5 539v3M450 539.5h1M468 539.5h1M629 539.5h1M888 539.5h1M187 540.5h2M451 540.5h1M457 540.5h1M462 540.5h1M469 540.5h2M482.5 540v2M189 541.5h2M452 541.5h5M458 541.5h2M461 541.5h1M471 541.5h1M191 542.5h1M202.5 542v3M460 542.5h1M472 542.5h2M481.5 542v2M192 543.5h2M474 543.5h4M194 544.5h2M478 544.5h3M196 545.5h1M201.5 545v2M197 546.5h2M199 547.5h2" fill="none" stroke="#1e90ff" stroke-width="1"/>

<rect x="5" y="43" width="223" height="61" fill="#fff"/>
<path d="M7.5 45.5H58.5V69.5H115.5V101.5H7.5Z" fill="url(#pg)" stroke="#0000a6"/>
<path d="M225.5 45.5H174.5V69.5H118.5V101.5H225.5Z" fill="url(#pg)" stroke="#0000a6"/>
<rect x="11" y="68" width="45" height="1" fill="#8c8cff"/>
<rect x="11" y="69" width="45" height="1" fill="#1010a8"/>
<rect x="178" y="68" width="44" height="1" fill="#8c8cff"/>
<rect x="178" y="69" width="44" height="1" fill="#1010a8"/>
<rect x="61.5" y="45.5" width="110" height="21" fill="#fff" stroke="#adadb5"/>
<rect x="82" y="46" width="1" height="20" fill="#adadb5"/>
<rect x="150" y="46" width="1" height="20" fill="#adadb5"/>
<rect x="63" y="47" width="18" height="18" fill="url(#bg1)"/>
<rect x="152" y="47" width="18" height="18" fill="url(#bg1)"/>
<path d="M69 54H75L72 57.5Z" fill="url(#ar)" shape-rendering="geometricPrecision"/>
<path d="M158 57.5H164L161 54Z" fill="url(#ar)" shape-rendering="geometricPrecision"/>
<path d="M7 36.5L10.7 32.5L14.4 36.5Z" fill="#000" shape-rendering="geometricPrecision"/>
<path d="M1181 597.5L1185 593.5V601.5Z" fill="#000" shape-rendering="geometricPrecision"/>
<path d="M1205 597.5L1201 593.5V601.5Z" fill="#9a9a9a" shape-rendering="geometricPrecision"/>

</svg>
<span class="t" style="left:-0.43px;top:10.50px;font-size:10.1px;color:#3a3a3a;transform:scaleX(0.9742);">5</span>
<span class="t" style="left:14.87px;top:10.50px;font-size:10.1px;color:#3a3a3a;transform:scaleX(0.9308);">M30</span>
<span class="t" style="left:45.88px;top:10.50px;font-size:10.1px;color:#3a3a3a;transform:scaleX(0.9599);">H1</span>
<span class="t" style="left:73.04px;top:10.50px;font-size:10.1px;color:#3a3a3a;transform:scaleX(1.0318);">H4</span>
<span class="t" style="left:101.85px;top:10.50px;font-size:10.1px;color:#3a3a3a;transform:scaleX(0.9833);">D1</span>
<span class="t" style="left:130.10px;top:10.50px;font-size:10.1px;color:#3a3a3a;transform:scaleX(0.9664);">W1</span>
<span class="t" style="left:155.65px;top:10.50px;font-size:10.1px;color:#3a3a3a;transform:scaleX(1.0064);">MN</span>
<span class="t" style="left:18.11px;top:33.63px;font-size:10.6px;color:#000;transform:scaleX(0.8833);-webkit-text-stroke:0.1px #000;">USOil-,H4  120.250 120.380 120.206 120.321</span>
<span class="t" style="left:8.04px;top:428.60px;font-size:10.4px;color:#000;transform:scaleX(0.9026);-webkit-text-stroke:0.1px #000;">MACD(12,26,9) 1.0802 0.4474</span>
<span class="t" style="left:7.99px;top:502.60px;font-size:10.4px;color:#000;transform:scaleX(0.8962);-webkit-text-stroke:0.1px #000;">RSI(14) 66.0560</span>
<span class="t" style="left:1171.82px;top:83.56px;font-size:10.5px;color:#000;transform:scaleX(0.8885);-webkit-text-stroke:0.1px #000;">117.770</span>
<span class="t" style="left:1171.82px;top:116.56px;font-size:10.5px;color:#000;transform:scaleX(0.8885);-webkit-text-stroke:0.1px #000;">115.430</span>
<span class="t" style="left:1171.82px;top:149.56px;font-size:10.5px;color:#000;transform:scaleX(0.8892);-webkit-text-stroke:0.1px #000;">113.155</span>
<span class="t" style="left:1171.82px;top:182.56px;font-size:10.5px;color:#000;transform:scaleX(0.8885);-webkit-text-stroke:0.1px #000;">110.880</span>
<span class="t" style="left:1171.82px;top:215.56px;font-size:10.5px;color:#000;transform:scaleX(0.8885);-webkit-text-stroke:0.1px #000;">108.540</span>
<span class="t" style="left:1171.82px;top:248.56px;font-size:10.5px;color:#000;transform:scaleX(0.8894);-webkit-text-stroke:0.1px #000;">106.265</span>
<span class="t" style="left:1171.82px;top:281.56px;font-size:10.5px;color:#000;transform:scaleX(0.8885);-webkit-text-stroke:0.1px #000;">103.990</span>
<span class="t" style="left:1171.82px;top:314.56px;font-size:10.5px;color:#000;transform:scaleX(0.8894);-webkit-text-stroke:0.1px #000;">101.715</span>
<span class="t" style="left:1172.06px;top:347.56px;font-size:10.5px;color:#000;transform:scaleX(0.8870);-webkit-text-stroke:0.1px #000;">99.375</span>
<span class="t" style="left:1172.06px;top:380.56px;font-size:10.5px;color:#000;transform:scaleX(0.8860);-webkit-text-stroke:0.1px #000;">97.100</span>
<span class="t" style="left:1172.06px;top:413.56px;font-size:10.5px;color:#000;transform:scaleX(0.8870);-webkit-text-stroke:0.1px #000;">94.825</span>
<span class="t" style="left:1169.70px;top:425.56px;font-size:10.5px;color:#000;transform:scaleX(0.8868);-webkit-text-stroke:0.1px #000;">2.5593</span>
<span class="t" style="left:1169.72px;top:458.56px;font-size:10.5px;color:#000;transform:scaleX(0.8970);-webkit-text-stroke:0.1px #000;">0.00</span>
<span class="t" style="left:1169.54px;top:483.56px;font-size:10.5px;color:#000;transform:scaleX(0.8870);-webkit-text-stroke:0.1px #000;">-2.0366</span>
<span class="t" style="left:1170.22px;top:499.56px;font-size:10.5px;color:#000;transform:scaleX(0.9135);-webkit-text-stroke:0.1px #000;">100</span>
<span class="t" style="left:1169.27px;top:515.56px;font-size:10.5px;color:#000;transform:scaleX(0.9358);-webkit-text-stroke:0.1px #000;">70</span>
<span class="t" style="left:1168.62px;top:544.56px;font-size:10.5px;color:#000;transform:scaleX(0.9530);-webkit-text-stroke:0.1px #000;">30</span>
<span class="t" style="left:1170.20px;top:559.56px;font-size:10.5px;color:#000;transform:scaleX(1.0434);-webkit-text-stroke:0.1px #000;">0</span>
<span class="t" style="left:2.60px;top:575.56px;font-size:10.5px;color:#000;transform:scaleX(0.9190);-webkit-text-stroke:0.1px #000;">12 Apr 2022</span>
<span class="t" style="left:66.60px;top:575.56px;font-size:10.5px;color:#000;transform:scaleX(0.9134);-webkit-text-stroke:0.1px #000;">18 Apr 04:00</span>
<span class="t" style="left:130.87px;top:575.56px;font-size:10.5px;color:#000;transform:scaleX(0.9087);-webkit-text-stroke:0.1px #000;">20 Apr 20:00</span>
<span class="t" style="left:194.87px;top:575.56px;font-size:10.5px;color:#000;transform:scaleX(0.9087);-webkit-text-stroke:0.1px #000;">25 Apr 08:00</span>
<span class="t" style="left:258.87px;top:575.56px;font-size:10.5px;color:#000;transform:scaleX(0.9087);-webkit-text-stroke:0.1px #000;">28 Apr 00:00</span>
<span class="t" style="left:322.87px;top:575.56px;font-size:10.5px;color:#000;transform:scaleX(0.9117);-webkit-text-stroke:0.1px #000;">2 May 12:00</span>
<span class="t" style="left:386.73px;top:575.56px;font-size:10.5px;color:#000;transform:scaleX(0.9142);-webkit-text-stroke:0.1px #000;">5 May 04:00</span>
<span class="t" style="left:450.82px;top:575.56px;font-size:10.5px;color:#000;transform:scaleX(0.9126);-webkit-text-stroke:0.1px #000;">9 May 16:00</span>
<span class="t" style="left:514.60px;top:575.56px;font-size:10.5px;color:#000;transform:scaleX(0.9102);-webkit-text-stroke:0.1px #000;">12 May 08:00</span>
<span class="t" style="left:578.60px;top:575.56px;font-size:10.5px;color:#000;transform:scaleX(0.9102);-webkit-text-stroke:0.1px #000;">16 May 20:00</span>
<span class="t" style="left:642.60px;top:575.56px;font-size:10.5px;color:#000;transform:scaleX(0.9102);-webkit-text-stroke:0.1px #000;">19 May 12:00</span>
<span class="t" style="left:706.87px;top:575.56px;font-size:10.5px;color:#000;transform:scaleX(0.9110);-webkit-text-stroke:0.1px #000;">24 May 00:00</span>
<span class="t" style="left:770.87px;top:575.56px;font-size:10.5px;color:#000;transform:scaleX(0.9110);-webkit-text-stroke:0.1px #000;">26 May 16:00</span>
<span class="t" style="left:834.79px;top:575.56px;font-size:10.5px;color:#000;transform:scaleX(0.9123);-webkit-text-stroke:0.1px #000;">31 May 04:00</span>
<span class="t" style="left:898.87px;top:575.56px;font-size:10.5px;color:#000;transform:scaleX(0.9064);-webkit-text-stroke:0.1px #000;">2 Jun 20:00</span>
<span class="t" style="left:15.73px;top:599.62px;font-size:13.5px;color:#6e6e6e;transform:scaleX(0.8935);">EURUSD-,Daily</span>
<span class="t" style="left:123.20px;top:599.62px;font-size:13.5px;color:#6e6e6e;transform:scaleX(0.9117);">AUDUSD-,Daily</span>
<span class="t" style="left:232.60px;top:599.62px;font-size:13.5px;color:#6e6e6e;transform:scaleX(0.8864);">USDCHF-,Daily</span>
<span class="t" style="left:339.79px;top:599.62px;font-size:13.5px;color:#6e6e6e;transform:scaleX(0.9073);">USDCAD-,Daily</span>
<span class="t" style="left:448.33px;top:599.62px;font-size:13.5px;color:#6e6e6e;transform:scaleX(0.9248);">USDCNH-,Daily</span>
<span class="t" style="left:560.40px;top:599.62px;font-size:13.5px;color:#6e6e6e;transform:scaleX(0.9028);">XAUUSD-,H1</span>
<span class="t" style="left:655.13px;top:599.62px;font-size:13.5px;color:#6e6e6e;transform:scaleX(0.9529);">UKOil-,Daily</span>
<span class="t" style="left:747.13px;top:599.62px;font-size:13.5px;color:#6e6e6e;transform:scaleX(0.9398);">USOil-,Weekly</span>
<span class="t" style="left:850.29px;top:599.62px;font-size:13.5px;color:#6e6e6e;transform:scaleX(0.9506);">HK50-,H1</span>
<span class="t" style="left:926.52px;top:599.62px;font-size:13.5px;color:#6e6e6e;transform:scaleX(0.8715);">EURCHF-,H1</span>
<span class="t" style="left:1020.75px;top:599.62px;font-size:13.5px;color:#000;transform:scaleX(0.9273);">USOil-,H4</span>
<span class="t" style="left:1099.46px;top:599.62px;font-size:13.5px;color:#6e6e6e;transform:scaleX(0.9458);">UKOil-,H4</span>
<span class="t" style="left:19.14px;top:57.37px;font-size:12.2px;color:#fff;transform:scaleX(0.8638);-webkit-text-stroke:0.1px #fff;">SELL</span>
<span class="t" style="left:186.55px;top:57.37px;font-size:12.2px;color:#fff;transform:scaleX(0.9678);-webkit-text-stroke:0.1px #fff;">BUY</span>
<span class="t" style="left:123.24px;top:55.77px;font-size:12.2px;color:#000;transform:scaleX(0.9917);-webkit-text-stroke:0.1px #000;">2.00</span>
<span class="t" style="left:54.27px;top:84.96px;font-size:35.9px;color:#fff;transform:scaleX(0.8984);-webkit-text-stroke:0.55px #1a1acb;">32</span>
<span class="t" style="left:165.27px;top:84.96px;font-size:35.9px;color:#fff;transform:scaleX(0.9026);-webkit-text-stroke:0.55px #1a1acb;">39</span>
<span class="t" style="left:29.85px;top:92.68px;font-size:11.9px;color:#fff;font-weight:bold;transform:scaleX(1.0762);-webkit-text-stroke:0.35px #fff;">120</span>
<span class="t" style="left:139.85px;top:92.68px;font-size:11.9px;color:#fff;font-weight:bold;transform:scaleX(1.0762);-webkit-text-stroke:0.35px #fff;">120</span>
<span class="t" style="left:94.12px;top:78.19px;font-size:11.0px;color:#fff;font-weight:bold;transform:scaleX(1.1638);-webkit-text-stroke:0.35px #fff;">1</span>
<span class="t" style="left:205.14px;top:78.19px;font-size:11.0px;color:#fff;font-weight:bold;transform:scaleX(1.0781);-webkit-text-stroke:0.35px #fff;">1</span>
<span class="t" style="left:1171.82px;top:49.56px;font-size:10.5px;color:#fff;transform:scaleX(0.8919);-webkit-text-stroke:0.1px #fff;">120.011</span>
<span class="t" style="left:1171.82px;top:92.56px;font-size:10.5px;color:#fff;transform:scaleX(0.8882);-webkit-text-stroke:0.1px #fff;">117.019</span>
<span class="t" style="left:1171.82px;top:143.56px;font-size:10.5px;color:#fff;transform:scaleX(0.8890);-webkit-text-stroke:0.1px #fff;">113.518</span>
<span class="t" style="left:1171.82px;top:193.56px;font-size:10.5px;color:#fff;transform:scaleX(0.8905);-webkit-text-stroke:0.1px #fff;">110.017</span>
<span class="t" style="left:1171.82px;top:236.56px;font-size:10.5px;color:#fff;transform:scaleX(0.8894);-webkit-text-stroke:0.1px #fff;">107.056</span>
</body></html>
